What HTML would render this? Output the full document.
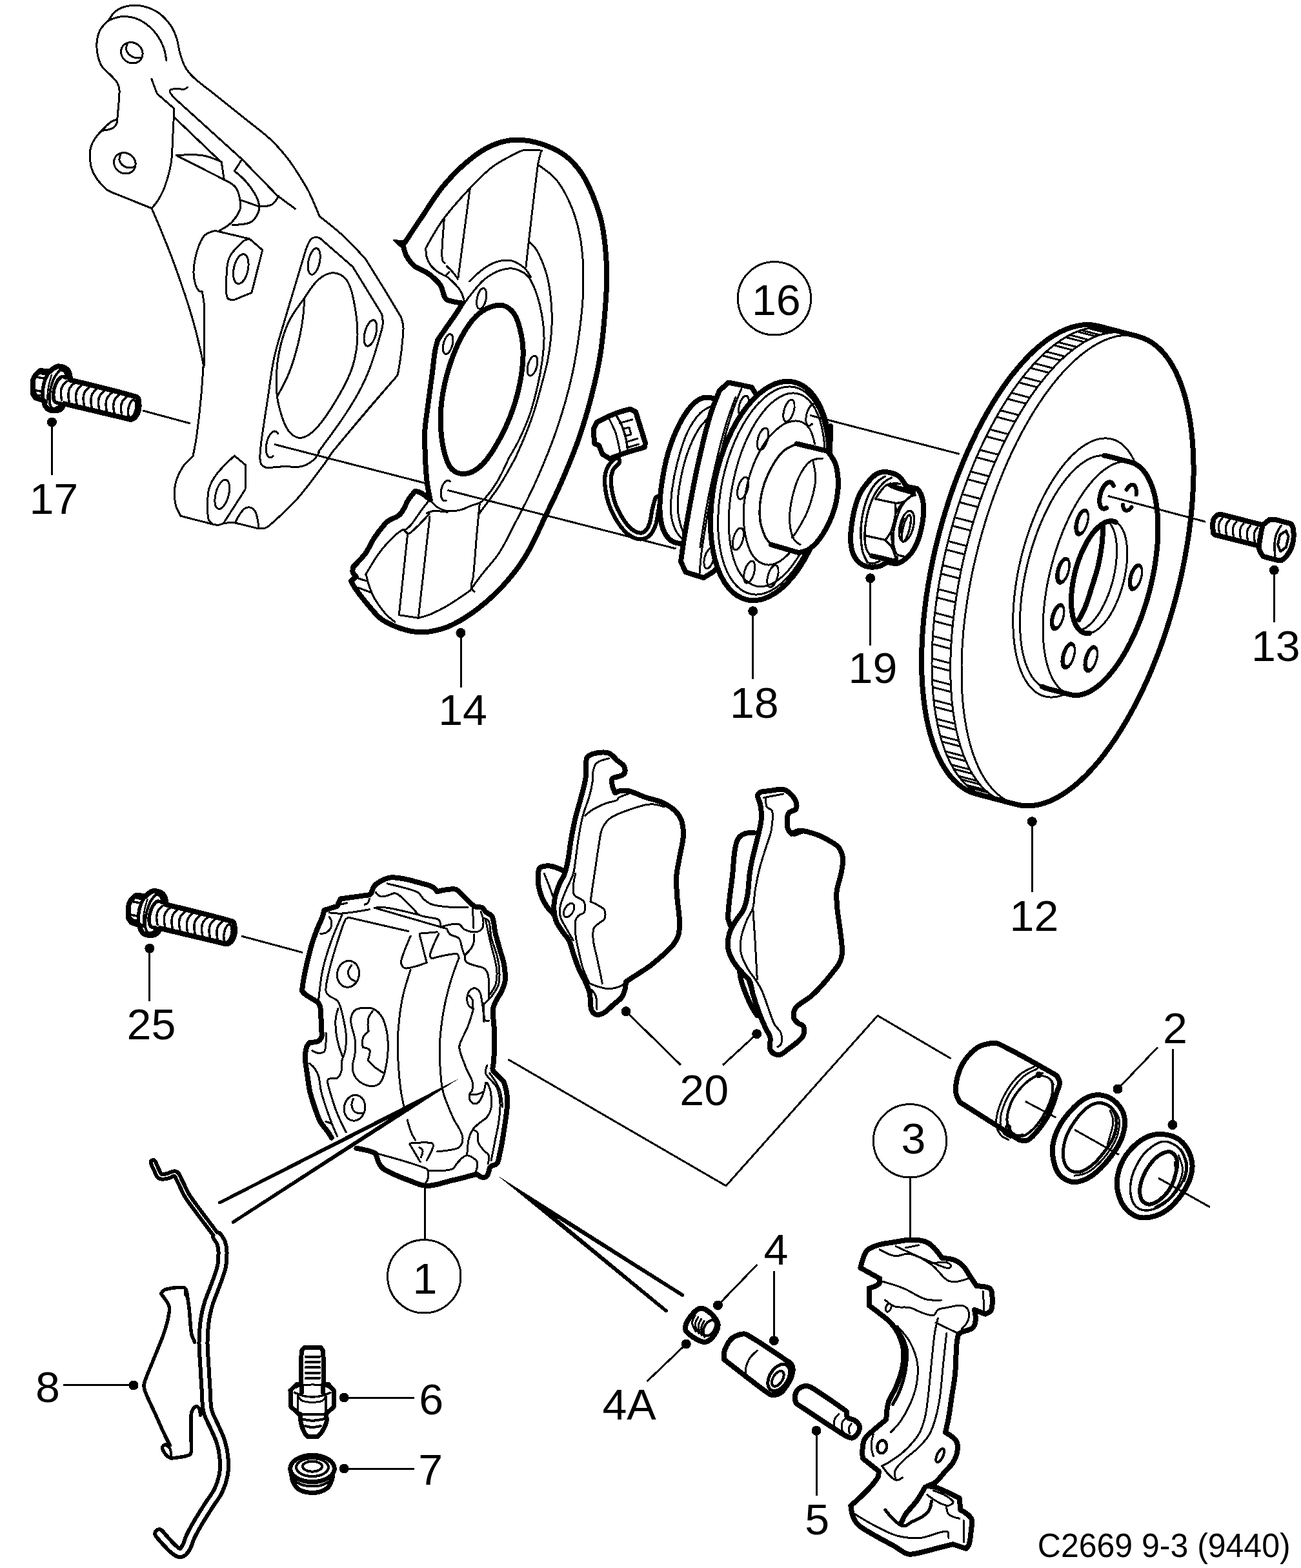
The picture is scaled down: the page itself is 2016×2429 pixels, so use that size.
<!DOCTYPE html>
<html><head><meta charset="utf-8"><title>Brake parts diagram</title>
<style>html,body{margin:0;padding:0;background:#fff}svg{display:block}text{font-family:"Liberation Sans",sans-serif;fill:#000;stroke:none}</style>
</head><body>
<svg xmlns="http://www.w3.org/2000/svg" width="2016" height="2429" viewBox="0 0 2016 2429" shape-rendering="crispEdges">
<rect width="2016" height="2429" fill="#fff"/>
<g fill="none" stroke="#000" stroke-linecap="round" stroke-linejoin="round">
<g id="p00_lines">
<path d="M221.0,636.0L295.0,656.0" stroke-width="3" stroke-linecap="butt" fill="none"/>
<path d="M425.0,688.3L658.3,748.3" stroke-width="3" stroke-linecap="butt" fill="none"/>
<path d="M693.3,759.3L1047.5,850.0" stroke-width="3" stroke-linecap="butt" fill="none"/>
<path d="M373.8,1450.0L468.8,1475.5" stroke-width="3" stroke-linecap="butt" fill="none"/>
<path d="M787.5,1641.2L1125.0,1837.0L1360.0,1573.3L1473.8,1640.0" stroke-width="3" stroke-linecap="butt" fill="none"/>
</g>
<g id="p01_knuckle">
<path d="M168.3,31.7C171.6,26.0 174.8,20.4 180.0,16.7C185.8,12.5 192.9,10.1 200.0,9.0C207.7,7.8 215.8,8.1 223.3,10.0C231.6,12.1 239.7,15.7 246.7,20.7C253.9,25.9 259.9,32.7 265.0,40.0C269.2,46.0 271.7,53.1 274.0,60.0C276.2,66.5 276.4,73.5 278.3,80.0C280.7,87.9 282.7,96.1 286.7,103.3C290.1,109.6 294.8,115.2 300.0,120.0C310.4,129.7 322.2,137.8 333.3,146.7C350.0,160.0 366.7,173.3 383.3,186.7C395.6,196.6 408.5,205.8 420.0,216.7C429.7,225.9 438.5,236.1 446.7,246.7C454.0,256.2 460.3,266.5 466.7,276.7C471.4,284.3 476.1,291.9 480.0,300.0C485.5,311.4 490.3,323.2 495.0,335.0C508.1,345.2 521.2,355.4 533.3,366.7C545.1,377.6 555.9,389.7 566.7,401.7C576.7,417.7 586.8,433.8 596.7,450.0C605.1,463.8 613.4,477.7 621.7,491.7C623.5,497.7 625.4,503.8 625.0,510.0C623.7,532.9 621.0,555.8 616.7,578.3C615.9,582.3 613.0,585.3 610.0,588.3C595.5,604.9 580.9,621.5 566.7,638.3C549.8,658.2 533.2,678.3 516.7,698.3" fill="none" stroke-width="3"/>
<path d="M610.0,588.3C578.6,624.8 547.2,661.2 516.7,698.3C511.1,705.1 507.0,713.0 501.7,720.0C488.1,738.0 475.0,756.5 460.0,773.3C447.2,787.7 432.8,800.5 418.3,813.3C415.7,815.4 413.1,817.5 410.0,818.3C406.2,819.3 402.3,818.8 398.3,818.3L361.7,809.3C356.6,809.6 351.6,809.8 346.7,810.7C343.8,811.2 341.2,813.2 338.3,813.3C335.0,813.5 331.6,812.6 328.3,811.7L280.0,799.3C276.4,793.1 272.8,786.9 271.7,780.0C270.0,770.1 269.7,759.8 271.7,750.0C273.6,740.5 278.2,731.5 283.3,723.3C287.4,716.9 293.2,711.8 299.0,706.7C301.2,695.6 303.5,684.5 305.0,673.3C307.7,653.4 309.8,633.4 311.7,613.3C313.1,598.4 314.0,583.3 315.0,568.3" fill="none" stroke-width="3"/>
<path d="M168.3,31.7C163.2,36.2 158.1,40.7 155.0,46.7C151.8,52.8 150.6,59.8 150.0,66.7C149.4,73.3 150.2,80.1 151.7,86.7C153.0,92.5 155.0,98.4 158.3,103.3C161.8,108.6 167.4,112.1 171.7,116.7C175.2,120.4 179.1,123.9 181.7,128.3C183.7,131.8 184.8,136.0 185.0,140.0C185.4,148.9 184.0,157.8 183.3,166.7C182.9,172.8 182.3,178.9 181.7,185.0C178.1,186.0 174.6,187.0 171.7,189.0C167.3,192.0 163.8,196.2 160.0,200.0C156.6,203.4 152.9,206.7 150.0,210.7C146.7,215.1 143.6,219.8 141.7,225.0C139.9,229.8 139.3,234.9 139.3,240.0C139.3,246.7 139.8,253.6 141.7,260.0C143.4,266.0 146.4,271.6 150.0,276.7C154.3,282.8 159.2,288.6 165.0,293.3C168.8,296.5 173.6,298.2 178.3,300.0L235.0,322.7" fill="none" stroke-width="3"/>
<path d="M181.7,185.0C181.8,187.0 181.9,189.0 181.0,190.7C179.5,193.6 177.9,196.8 175.0,198.3C170.3,200.9 164.8,201.6 159.3,202.3" fill="none" stroke-width="3"/>
<path d="M168.3,31.7C174.9,28.9 181.4,26.2 188.3,25.7C195.6,25.1 203.1,26.0 210.0,28.3C217.3,30.8 224.0,35.1 230.0,40.0C235.8,44.7 240.8,50.5 245.0,56.7C248.8,62.3 251.8,68.6 254.0,75.0C256.0,80.9 256.9,87.1 257.7,93.3" fill="none" stroke-width="3"/>
<ellipse cx="204.3" cy="81.7" rx="17.3" ry="15.7" transform="rotate(35 204.3 81.7)" fill="none" stroke-width="3"/>
<path d="M197.7,66.7C196.1,70.7 194.6,74.7 196.0,78.3C197.7,82.7 201.7,86.3 206.0,88.3C209.9,90.2 214.5,89.8 219.0,89.3" fill="none" stroke-width="3"/>
<ellipse cx="193.3" cy="252.7" rx="17.3" ry="15.7" transform="rotate(35 193.3 252.7)" fill="none" stroke-width="3"/>
<path d="M187.3,237.7C185.6,241.7 183.9,245.7 185.3,249.3C187.1,253.9 191.4,257.6 196.0,259.3C200.2,260.9 204.8,259.6 209.3,258.3" fill="none" stroke-width="3"/>
<path d="M235.0,122.7L243.3,145.0L270.0,168.3C269.3,183.3 268.5,198.3 267.7,213.3C266.9,226.7 267.2,240.1 265.0,253.3C262.9,265.8 259.2,278.1 255.0,290.0C252.5,297.0 248.9,303.6 245.0,310.0C242.2,314.6 238.6,318.6 235.0,322.7" fill="none" stroke-width="3"/>
<path d="M235.0,322.7C239.0,331.7 242.9,340.8 246.7,350.0C253.5,366.6 260.4,383.2 266.7,400.0C273.7,418.8 280.3,437.7 286.7,456.7C291.4,471.0 295.9,485.4 300.0,500.0C303.7,513.2 306.9,526.6 310.0,540.0C312.2,549.4 314.1,558.9 316.0,568.3" fill="none" stroke-width="3"/>
<path d="M333.3,357.3C327.0,358.9 320.7,360.4 316.7,365.0C310.6,371.9 307.7,381.2 305.0,390.0C302.1,399.7 300.5,409.9 300.0,420.0C299.7,426.7 300.9,433.5 302.7,440.0C303.7,443.9 305.6,447.7 308.3,450.7C309.5,451.9 311.4,451.8 313.3,451.7C314.8,460.0 316.3,468.3 316.7,476.7C317.4,495.5 316.8,514.4 316.7,533.3C316.6,545.0 316.3,556.7 316.0,568.3" fill="none" stroke-width="3"/>
<path d="M291.0,135.0C289.1,136.5 287.3,138.0 285.0,138.3C281.1,138.8 277.2,137.1 273.3,137.3C270.2,137.5 266.8,137.8 264.0,139.3C263.0,139.9 262.8,141.6 263.3,142.7C265.0,146.0 267.5,148.8 270.0,151.7L375.0,246.7L363.3,265.0C369.2,269.7 375.1,274.4 380.0,280.0C386.3,287.2 392.1,294.9 396.7,303.3C399.4,308.4 401.3,314.2 401.7,320.0C401.9,324.6 400.7,329.4 398.3,333.3C395.5,338.0 391.8,343.0 386.7,345.0C378.3,348.3 369.2,348.3 360.0,348.3" fill="none" stroke-width="3"/>
<path d="M375.0,246.7L430.0,303.3L457.3,323.3" fill="none" stroke-width="3"/>
<path d="M431.7,303.3C429.1,308.7 426.5,314.0 421.7,316.7C415.8,319.9 408.7,320.0 401.7,320.0L373.3,310.0" fill="none" stroke-width="3"/>
<path d="M270.0,181.7L343.3,251.7L347.3,278.3" fill="none" stroke-width="3"/>
<path d="M273.3,240.7C286.7,239.7 300.1,238.8 313.3,240.7C323.8,242.2 333.6,246.4 343.3,250.7" fill="none" stroke-width="3"/>
<path d="M273.3,240.7L347.3,278.3C353.9,281.4 360.6,284.5 365.0,290.0C369.1,295.1 370.4,301.9 371.7,308.3C372.7,313.8 373.6,319.8 371.7,325.0C368.9,332.5 363.9,339.3 358.3,345.0C353.2,350.3 346.6,353.8 340.0,357.3" fill="none" stroke-width="3"/>
<path d="M333.3,357.3L386.7,370.0L406.7,387.3L390.0,453.3L363.3,464.3C358.8,464.6 354.4,464.9 352.7,461.7C349.3,455.2 350.4,447.2 350.7,440.0C351.2,426.6 350.1,412.5 355.0,400.0C359.1,389.5 368.5,381.8 376.7,374.0C379.3,371.5 383.0,370.8 386.7,370.0" fill="none" stroke-width="3"/>
<ellipse cx="373.3" cy="416.7" rx="11.0" ry="23.3" transform="rotate(12 373.3 416.7)" fill="none" stroke-width="3"/>
<path d="M495.0,368.3C490.6,367.5 486.3,366.8 483.3,369.3C478.4,373.6 476.2,380.2 474.0,386.7C469.3,402.2 464.7,417.8 460.0,433.3C453.3,455.6 446.5,477.7 440.0,500.0C434.8,517.7 428.9,535.3 425.0,553.3C420.5,574.2 418.2,595.5 415.0,616.7C411.6,638.9 408.1,661.1 405.0,683.3C404.2,688.9 403.8,694.4 403.3,700.0" fill="none" stroke-width="3"/>
<path d="M403.3,700.0C402.7,706.3 402.1,712.7 404.3,718.3C405.7,721.8 409.5,723.4 413.3,725.0C422.2,724.0 431.1,723.1 440.0,722.7C448.9,722.3 458.0,724.5 466.7,722.7C473.4,721.3 479.6,717.6 485.0,713.3C489.3,709.9 492.2,704.9 495.0,700.0" fill="none" stroke-width="3"/>
<path d="M495.0,368.3L546.7,413.3L591.7,486.7C592.5,491.1 593.3,495.5 593.3,500.0C593.3,503.4 592.5,506.7 591.7,510.0C583.1,540.9 574.6,571.8 560.0,600.0C541.6,635.6 517.5,667.8 493.3,700.0" fill="none" stroke-width="3"/>
<path d="M516.7,422.7C524.2,422.7 532.3,427.2 536.7,433.3C543.5,442.9 546.0,455.1 548.3,466.7C551.8,484.2 554.3,502.1 554.0,520.0C553.7,535.7 551.2,551.6 546.7,566.7C542.0,581.9 534.6,596.2 526.7,610.0C516.7,627.4 506.5,644.9 493.3,660.0C486.2,668.1 477.3,676.8 466.7,678.3C459.0,679.4 451.3,672.9 446.7,666.7C439.5,657.1 436.5,644.9 433.3,633.3C430.4,622.5 428.6,611.2 428.3,600.0C428.0,583.3 428.7,566.4 431.7,550.0C434.8,532.9 439.5,515.9 446.7,500.0C453.0,486.1 462.9,474.2 471.7,461.7C478.5,451.9 484.3,441.1 493.3,433.3C499.8,427.7 508.1,422.7 516.7,422.7Z" fill="none" stroke-width="3"/>
<path d="M471.7,461.7C471.2,472.3 470.8,482.9 469.3,493.3C467.5,506.8 465.0,520.2 461.7,533.3C458.0,548.0 453.9,562.6 448.3,576.7C443.3,589.4 436.7,601.4 430.0,613.3" fill="none" stroke-width="3"/>
<ellipse cx="486.7" cy="405.0" rx="8.7" ry="20.7" transform="rotate(12 486.7 405.0)" fill="none" stroke-width="3"/>
<ellipse cx="574.0" cy="516.0" rx="8.7" ry="20.7" transform="rotate(15 574.0 516.0)" fill="none" stroke-width="3"/>
<path d="M430.6,671.8L430.0,670.7L429.2,669.7L428.4,669.0L427.6,668.4L426.6,668.1L425.7,668.0L424.6,668.2L423.6,668.5L422.5,669.1L421.5,669.9L420.4,670.8L419.4,672.0L418.4,673.4L417.5,674.9L416.6,676.5L415.7,678.3L415.0,680.2L414.3,682.2L413.7,684.3L413.2,686.4L412.8,688.5L412.5,690.6L412.3,692.7L412.2,694.8L412.3,696.8L412.4,698.6L412.7,700.4L413.0,702.1L413.5,703.5L414.0,704.9L414.7,706.0L415.4,707.0L416.2,707.7L417.1,708.2L418.0,708.5L419.0,708.6L420.0,708.5L421.1,708.2L422.1,707.6L423.2,706.8" fill="none" stroke-width="3"/>
<path d="M346.7,810.0L380.0,758.3L381.0,720.7L363.3,706.0C353.9,714.6 344.5,723.3 336.7,733.3C331.2,740.3 326.5,748.2 324.0,756.7C321.4,765.2 321.8,774.4 321.7,783.3C321.6,790.6 321.3,798.0 323.3,805.0C324.2,808.2 327.1,810.3 330.0,812.3" fill="none" stroke-width="3"/>
<ellipse cx="344.3" cy="765.7" rx="10.0" ry="23.3" transform="rotate(15 344.3 765.7)" fill="none" stroke-width="3"/>
<path d="M365.0,808.3C368.3,801.8 371.6,795.2 376.7,790.0C379.2,787.4 383.1,785.4 386.7,786.0C390.6,786.7 394.4,789.7 396.0,793.3C399.4,801.1 400.2,809.7 401.0,818.3" fill="none" stroke-width="3"/>
</g>
<g id="p02_bolts">
<path d="M108.9,588.6L111.4,589.3C144.7,597.2 177.9,605.0 210.7,614.6C212.7,615.1 214.2,617.3 214.6,619.3C215.6,624.4 216.0,629.9 215.0,635.0C214.2,639.2 211.9,643.1 209.3,646.4C207.9,648.2 205.7,649.2 203.6,649.7C201.9,650.1 200.2,649.5 198.6,648.9L99.3,625.4C98.5,627.6 97.8,629.7 96.4,631.4C95.1,633.1 93.4,634.7 91.4,635.4C88.7,636.4 85.7,636.6 82.9,636.4C80.1,636.2 77.3,635.7 75.0,634.3C72.8,633.0 71.2,630.8 70.0,628.6C68.7,626.2 68.3,623.4 67.9,620.7L55.0,616.4L51.1,610.7C50.6,603.5 50.0,596.3 51.1,589.3C51.8,585.6 54.1,582.3 56.4,579.3C58.1,577.1 60.5,575.5 62.9,574.0L77.1,575.7C78.9,573.9 80.7,572.1 82.9,570.7C85.1,569.3 87.4,567.4 90.0,567.4C94.2,567.4 98.5,568.6 102.1,570.7C104.7,572.2 106.4,575.1 107.4,577.9C108.7,581.2 108.8,584.9 108.9,588.6" fill="#fff" stroke-width="8"/>
<path d="M77.1,575.7C74.5,579.4 71.9,583.0 70.3,587.1C68.3,592.2 67.1,597.5 66.4,602.9C65.7,608.5 65.8,614.3 66.0,620.0" fill="none" stroke-width="5.5"/>
<path d="M62.9,578.6L72.6,580.6" fill="none" stroke-width="3"/>
<path d="M58.3,584.3L70.0,586.6" fill="none" stroke-width="3.5"/>
<path d="M54.7,604.6L65.1,606.6" fill="none" stroke-width="3.5"/>
<path d="M55.0,608.6C55.6,609.8 56.3,611.1 57.4,611.7C59.3,612.7 61.4,612.9 63.6,613.1" fill="none" stroke-width="3"/>
<path d="M80.0,580.7C78.0,587.1 76.0,593.4 75.0,600.0C73.8,607.8 73.4,615.7 73.1,623.6" fill="none" stroke-width="2.5"/>
<path d="M93.1,573.1C89.9,576.6 86.7,580.1 84.6,584.3C81.6,590.1 79.7,596.5 78.3,602.9C77.0,608.9 76.3,615.2 76.6,621.4C76.7,624.7 77.5,628.0 79.3,630.7C80.3,632.2 82.5,633.0 84.3,632.9C86.7,632.6 88.9,631.3 90.7,629.7C92.0,628.5 92.6,626.8 93.1,625.0" fill="none" stroke-width="4"/>
<path d="M102.9,585.7C100.5,584.2 98.1,582.8 95.7,583.6C92.5,584.7 90.3,587.8 88.6,590.7C86.2,594.6 84.6,599.1 83.6,603.6C82.6,607.8 82.4,612.2 82.9,616.4C83.1,618.8 83.9,621.4 85.7,622.9C87.7,624.4 90.4,624.5 93.1,624.6" fill="none" stroke-width="5.5"/>
<path d="M93.1,573.1C95.8,573.5 98.5,573.8 100.0,575.7C102.1,578.2 102.5,581.6 102.9,585.0" fill="none" stroke-width="4"/>
<path d="M103.6,590.7C100.8,593.1 98.1,595.5 96.4,598.6C94.9,601.4 94.4,604.7 94.3,607.9C94.1,611.9 94.9,616.0 95.7,620.0" fill="none" stroke-width="3.5"/>
<path d="M115.1,593.6C112.4,595.9 109.7,598.3 108.0,601.4C106.5,604.2 106.0,607.5 105.9,610.7C105.7,614.8 106.5,618.8 107.3,622.9" fill="none" stroke-width="3.5"/>
<path d="M126.9,596.6C124.1,598.9 121.4,601.3 119.7,604.4C118.2,607.2 117.7,610.5 117.6,613.7C117.4,617.8 118.2,621.8 119.0,625.9" fill="none" stroke-width="3.5"/>
<path d="M138.4,599.4C135.7,601.8 133.0,604.2 131.3,607.3C129.8,610.1 129.2,613.4 129.1,616.6C129.0,620.6 129.8,624.7 130.6,628.7" fill="none" stroke-width="3.5"/>
<path d="M150.1,602.4C147.4,604.8 144.7,607.2 143.0,610.3C141.5,613.1 141.0,616.4 140.9,619.6C140.7,623.6 141.5,627.7 142.3,631.7" fill="none" stroke-width="3.5"/>
<path d="M161.7,605.3C159.0,607.7 156.3,610.0 154.6,613.1C153.1,615.9 152.5,619.3 152.4,622.4C152.3,626.5 153.1,630.5 153.9,634.6" fill="none" stroke-width="3.5"/>
<path d="M173.4,608.3C170.7,610.7 168.0,613.0 166.3,616.1C164.8,618.9 164.2,622.3 164.1,625.4C164.0,629.5 164.8,633.5 165.6,637.6" fill="none" stroke-width="3.5"/>
<path d="M185.0,611.1C182.3,613.5 179.5,615.9 177.9,619.0C176.3,621.8 175.8,625.1 175.7,628.3C175.6,632.4 176.4,636.4 177.1,640.4" fill="none" stroke-width="3.5"/>
<path d="M196.7,614.1C194.0,616.5 191.3,618.9 189.6,622.0C188.1,624.8 187.5,628.1 187.4,631.3C187.3,635.4 188.1,639.4 188.9,643.4" fill="none" stroke-width="3.5"/>
<ellipse cx="204.6" cy="633.1" rx="5.7" ry="13.9" transform="rotate(12 204.6 633.1)" fill="none" stroke-width="3.5"/>
<path d="M257.3,1401.2L259.8,1401.9C293.1,1409.8 326.3,1417.6 359.1,1427.2C361.1,1427.7 362.6,1429.9 363.0,1431.9C364.0,1437.0 364.4,1442.5 363.4,1447.6C362.6,1451.8 360.3,1455.7 357.7,1459.0C356.3,1460.8 354.1,1461.8 352.0,1462.3C350.3,1462.7 348.6,1462.1 347.0,1461.5L247.7,1438.0C246.9,1440.2 246.2,1442.3 244.8,1444.0C243.5,1445.7 241.8,1447.3 239.8,1448.0C237.1,1449.0 234.1,1449.2 231.3,1449.0C228.5,1448.8 225.7,1448.3 223.4,1446.9C221.2,1445.6 219.6,1443.4 218.4,1441.2C217.1,1438.8 216.7,1436.0 216.3,1433.3L203.4,1429.0L199.5,1423.3C199.0,1416.1 198.4,1408.9 199.5,1401.9C200.2,1398.2 202.5,1394.9 204.8,1391.9C206.5,1389.7 208.9,1388.1 211.3,1386.6L225.5,1388.3C227.3,1386.5 229.1,1384.7 231.3,1383.3C233.5,1381.9 235.8,1380.0 238.4,1380.0C242.6,1380.0 246.9,1381.2 250.5,1383.3C253.1,1384.8 254.8,1387.7 255.8,1390.5C257.1,1393.8 257.2,1397.5 257.3,1401.2" fill="#fff" stroke-width="8"/>
<path d="M225.5,1388.3C222.9,1392.0 220.3,1395.6 218.7,1399.7C216.7,1404.8 215.5,1410.1 214.8,1415.5C214.1,1421.1 214.2,1426.9 214.4,1432.6" fill="none" stroke-width="5.5"/>
<path d="M211.3,1391.2L221.0,1393.2" fill="none" stroke-width="3"/>
<path d="M206.7,1396.9L218.4,1399.2" fill="none" stroke-width="3.5"/>
<path d="M203.1,1417.2L213.5,1419.2" fill="none" stroke-width="3.5"/>
<path d="M203.4,1421.2C204.0,1422.4 204.7,1423.7 205.8,1424.3C207.7,1425.3 209.8,1425.5 212.0,1425.7" fill="none" stroke-width="3"/>
<path d="M228.4,1393.3C226.4,1399.7 224.4,1406.0 223.4,1412.6C222.2,1420.4 221.8,1428.3 221.5,1436.2" fill="none" stroke-width="2.5"/>
<path d="M241.5,1385.7C238.3,1389.2 235.1,1392.7 233.0,1396.9C230.0,1402.7 228.1,1409.1 226.7,1415.5C225.4,1421.5 224.7,1427.8 225.0,1434.0C225.1,1437.3 225.9,1440.6 227.7,1443.3C228.7,1444.8 230.9,1445.6 232.7,1445.5C235.1,1445.2 237.3,1443.9 239.1,1442.3C240.4,1441.1 241.0,1439.4 241.5,1437.6" fill="none" stroke-width="4"/>
<path d="M251.3,1398.3C248.9,1396.8 246.5,1395.4 244.1,1396.2C240.9,1397.3 238.7,1400.4 237.0,1403.3C234.6,1407.2 233.0,1411.7 232.0,1416.2C231.0,1420.4 230.8,1424.8 231.3,1429.0C231.5,1431.4 232.3,1434.0 234.1,1435.5C236.1,1437.0 238.8,1437.1 241.5,1437.2" fill="none" stroke-width="5.5"/>
<path d="M241.5,1385.7C244.2,1386.1 246.9,1386.4 248.4,1388.3C250.5,1390.8 250.9,1394.2 251.3,1397.6" fill="none" stroke-width="4"/>
<path d="M252.0,1403.3C249.2,1405.7 246.5,1408.1 244.8,1411.2C243.3,1414.0 242.8,1417.3 242.7,1420.5C242.5,1424.5 243.3,1428.6 244.1,1432.6" fill="none" stroke-width="3.5"/>
<path d="M263.5,1406.2C260.8,1408.5 258.1,1410.9 256.4,1414.0C254.9,1416.8 254.4,1420.1 254.3,1423.3C254.1,1427.4 254.9,1431.4 255.7,1435.5" fill="none" stroke-width="3.5"/>
<path d="M275.3,1409.2C272.5,1411.5 269.8,1413.9 268.1,1417.0C266.6,1419.8 266.1,1423.1 266.0,1426.3C265.8,1430.4 266.6,1434.4 267.4,1438.5" fill="none" stroke-width="3.5"/>
<path d="M286.8,1412.0C284.1,1414.4 281.4,1416.8 279.7,1419.9C278.2,1422.7 277.6,1426.0 277.5,1429.2C277.4,1433.2 278.2,1437.3 279.0,1441.3" fill="none" stroke-width="3.5"/>
<path d="M298.5,1415.0C295.8,1417.4 293.1,1419.8 291.4,1422.9C289.9,1425.7 289.4,1429.0 289.3,1432.2C289.1,1436.2 289.9,1440.3 290.7,1444.3" fill="none" stroke-width="3.5"/>
<path d="M310.1,1417.9C307.4,1420.3 304.7,1422.6 303.0,1425.7C301.5,1428.5 300.9,1431.9 300.8,1435.0C300.7,1439.1 301.5,1443.1 302.3,1447.2" fill="none" stroke-width="3.5"/>
<path d="M321.8,1420.9C319.1,1423.3 316.4,1425.6 314.7,1428.7C313.2,1431.5 312.6,1434.9 312.5,1438.0C312.4,1442.1 313.2,1446.1 314.0,1450.2" fill="none" stroke-width="3.5"/>
<path d="M333.4,1423.7C330.7,1426.1 327.9,1428.5 326.3,1431.6C324.7,1434.4 324.2,1437.7 324.1,1440.9C324.0,1445.0 324.8,1449.0 325.5,1453.0" fill="none" stroke-width="3.5"/>
<path d="M345.1,1426.7C342.4,1429.1 339.7,1431.5 338.0,1434.6C336.5,1437.4 335.9,1440.7 335.8,1443.9C335.7,1448.0 336.5,1452.0 337.3,1456.0" fill="none" stroke-width="3.5"/>
<ellipse cx="353.0" cy="1445.7" rx="5.7" ry="13.9" transform="rotate(12 353.0 1445.7)" fill="none" stroke-width="3.5"/>
</g>
<g id="p03_shield">
<path d="M626.7,376.7C635.5,363.3 644.3,349.9 653.3,336.7C664.3,320.5 674.2,303.4 686.7,288.3C698.7,273.8 712.1,260.3 726.7,248.3C737.8,239.1 750.0,230.7 763.3,225.0C774.8,220.0 787.5,216.9 800.0,216.7C813.5,216.4 827.1,219.1 840.0,223.3C853.0,227.6 865.8,233.4 876.7,241.7C887.3,249.8 896.1,260.4 903.3,271.7C911.6,284.6 917.3,299.0 922.7,313.3C927.5,326.3 931.6,339.7 934.0,353.3C937.4,373.1 939.2,393.3 940.0,413.3C940.7,431.1 939.9,448.9 938.7,466.7C936.8,493.4 934.6,520.2 930.7,546.7C927.3,569.1 922.3,591.3 916.7,613.3C910.9,635.8 904.3,658.1 896.7,680.0C888.8,702.6 879.5,724.7 870.0,746.7C861.7,765.8 852.5,784.6 843.3,803.3" fill="none" stroke-width="8"/>
<path d="M843.3,803.3C834.2,823.8 825.0,844.3 813.3,863.3C803.8,878.9 792.3,893.2 780.0,906.7C767.8,920.0 754.3,932.3 740.0,943.3C727.5,952.9 714.2,961.6 700.0,968.3C689.5,973.3 678.1,976.4 666.7,978.3C657.9,979.8 648.8,979.6 640.0,978.3C630.8,977.0 621.9,974.1 613.3,970.7C605.2,967.4 596.9,963.8 590.0,958.3C582.3,952.3 576.4,944.1 570.0,936.7C563.6,929.1 557.4,921.4 551.7,913.3C548.7,909.2 546.4,904.6 544.0,900.0L551.7,893.3C549.6,891.3 547.4,889.3 546.7,886.7C545.9,884.0 546.6,881.2 547.3,878.3C554.2,871.4 561.0,864.5 566.7,856.7C571.9,849.4 574.9,840.7 580.0,833.3C586.1,824.5 592.1,815.5 600.0,808.3C605.7,803.1 614.7,802.3 620.0,796.7C626.2,790.2 628.5,780.9 633.3,773.3C636.3,768.8 639.8,764.7 643.3,760.7C646.8,761.4 650.3,762.2 653.3,764.0C658.0,766.7 662.0,770.4 666.0,774.0" fill="none" stroke-width="8"/>
<path d="M609.7,372.0L625.0,373.3L627.5,378.0L624.2,382.5L619.2,381.3Z" fill="#000" stroke-width="2"/>
<path d="M625.0,381.7C626.2,386.9 627.4,392.1 630.0,396.7C633.1,402.2 636.8,407.7 641.7,411.7C647.5,416.5 655.3,418.5 661.7,422.5C665.8,425.1 669.8,428.2 673.3,431.7C677.0,435.2 680.8,438.9 683.3,443.3C685.9,447.9 686.1,453.6 688.3,458.3C689.5,460.8 690.8,463.7 693.3,464.7C700.7,467.6 708.7,468.6 716.7,469.7" fill="none" stroke-width="8"/>
<path d="M716.7,469.7C714.0,474.3 711.3,478.9 708.3,483.3C703.5,490.7 698.3,497.8 693.3,505.0C688.3,512.2 683.3,519.4 678.3,526.7C676.7,532.2 675.1,537.7 674.2,543.3C672.3,554.4 671.4,565.6 670.0,576.7C667.8,593.3 665.5,610.0 663.3,626.7C661.6,640.5 659.0,654.4 658.3,668.3C657.6,682.2 658.4,696.1 659.2,710.0" fill="none" stroke-width="8"/>
<path d="M659.0,710.0C659.6,722.2 660.2,734.5 661.7,746.7C662.8,755.9 664.7,764.9 666.7,774.0" fill="none" stroke-width="8"/>
<path d="M773.3,472.7C780.6,472.2 788.4,476.3 793.3,481.7C799.6,488.4 802.6,497.8 805.0,506.7C808.5,519.7 810.7,533.2 810.7,546.7C810.7,563.4 808.4,580.2 805.0,596.7C801.5,613.7 796.4,630.5 790.0,646.7C783.6,662.8 775.7,678.5 766.7,693.3C760.1,704.2 752.9,715.0 743.3,723.3C736.9,729.0 728.5,733.3 720.0,734.0C712.9,734.5 704.8,731.9 700.0,726.7C693.4,719.6 690.6,709.4 688.3,700.0C684.7,684.8 682.9,669.0 682.7,653.3C682.4,637.7 683.9,622.0 686.7,606.7C689.7,589.7 694.2,572.9 700.0,556.7C705.4,541.7 711.8,526.9 720.0,513.3C726.3,502.9 733.6,492.4 743.3,485.0C751.9,478.4 762.5,473.4 773.3,472.7Z" fill="none" stroke-width="8"/>
<path d="M720.0,469.2C724.3,463.2 728.6,457.3 733.3,451.7C738.6,445.3 743.7,438.6 750.0,433.3C756.0,428.3 762.8,424.0 770.0,420.8C776.3,418.1 783.1,416.2 790.0,415.8C795.1,415.6 800.3,417.1 805.0,419.2C809.9,421.3 814.8,424.2 818.3,428.3C822.8,433.6 825.7,440.2 828.3,446.7C831.8,455.3 834.5,464.3 836.7,473.3C838.9,482.7 840.5,492.1 841.7,501.7C842.7,510.0 843.2,518.3 843.0,526.7C842.7,537.8 841.5,548.9 840.0,560.0C838.3,572.3 836.1,584.6 833.3,596.7C830.0,611.2 826.5,625.8 821.7,640.0C817.0,653.7 811.2,667.0 805.0,680.0C800.1,690.3 794.2,700.2 788.3,710.0" fill="none" stroke-width="3"/>
<path d="M788.3,710.0C782.8,722.5 777.2,735.1 770.0,746.7C763.3,757.4 756.0,768.1 746.7,776.7C742.3,780.7 735.6,781.1 730.0,783.3C724.4,785.6 719.2,788.7 713.3,790.0C706.8,791.5 700.0,792.6 693.3,791.7C687.4,790.9 681.7,788.3 676.7,785.0C672.5,782.3 669.6,778.1 666.7,774.0" fill="none" stroke-width="3"/>
<path d="M727.5,435.8C733.6,429.7 739.7,423.5 746.7,418.3C752.9,413.7 759.5,409.4 766.7,406.7C773.0,404.2 779.9,403.0 786.7,403.0C791.3,403.0 795.8,404.7 800.0,406.7C804.9,409.0 809.5,412.0 813.3,415.8C817.1,419.6 819.8,424.4 822.5,429.2" fill="none" stroke-width="3"/>
<path d="M820.8,375.8C824.2,378.6 827.6,381.4 830.0,385.0C834.1,391.2 837.2,398.1 840.0,405.0C843.3,413.1 846.3,421.5 848.3,430.0C850.7,439.9 852.2,449.9 853.3,460.0C854.6,471.1 855.3,482.2 855.3,493.3C855.3,504.5 854.5,515.6 853.3,526.7C852.2,537.8 850.5,549.0 848.3,560.0C846.1,571.2 843.0,582.3 840.0,593.3C836.3,607.3 832.7,621.3 828.3,635.0C824.4,647.4 819.8,659.6 815.0,671.7C809.8,684.6 804.1,697.3 798.3,710.0" fill="none" stroke-width="3"/>
<path d="M798.3,710.0C790.4,724.7 782.4,739.3 773.3,753.3C765.1,766.0 755.5,777.7 746.7,790.0C745.5,791.6 744.4,793.3 743.3,795.0" fill="none" stroke-width="3"/>
<path d="M743.3,780.0C741.6,797.8 739.9,815.5 738.3,833.3C736.6,853.3 735.5,873.4 733.3,893.3C732.7,899.0 729.6,904.3 730.0,910.0C730.2,912.8 732.6,914.7 735.0,916.7" fill="none" stroke-width="3"/>
<path d="M838.3,235.0C836.3,242.2 834.3,249.3 833.3,256.7C826.5,308.8 820.8,361.1 815.0,413.3" fill="none" stroke-width="3"/>
<path d="M728.3,291.7L710.0,430.0" fill="none" stroke-width="3"/>
<path d="M688.3,340.0C687.0,355.5 685.7,371.1 685.0,386.7C684.8,392.2 684.5,397.9 685.7,403.3C686.0,405.1 687.7,406.2 689.3,407.3" fill="none" stroke-width="3"/>
<path d="M692.5,412.5C695.6,415.5 698.8,418.5 701.7,421.7C703.8,424.0 705.7,426.6 707.5,429.2C708.2,430.2 708.7,431.3 709.2,432.5" fill="none" stroke-width="3"/>
<path d="M695.8,421.7L690.0,427.5" fill="none" stroke-width="3"/>
<path d="M660.0,384.2C659.9,388.4 659.8,392.6 660.8,396.7C662.0,401.4 663.9,406.0 666.7,410.0C669.3,413.9 672.9,417.1 676.7,420.0C680.2,422.7 684.4,424.5 688.3,426.7C690.0,427.6 691.9,428.0 693.3,429.2C698.0,433.0 702.6,437.1 706.7,441.7C709.9,445.2 712.9,449.0 715.0,453.3C717.4,458.3 718.7,463.7 720.0,469.2" fill="none" stroke-width="3"/>
<path d="M660.0,384.0C668.3,368.9 676.5,353.8 686.7,340.0C698.8,323.5 712.6,308.3 726.7,293.3C738.2,281.0 749.9,268.6 763.3,258.3C774.5,249.8 787.5,243.8 800.0,237.3C804.2,235.1 808.6,232.8 813.3,232.3C822.2,231.4 831.1,232.4 840.0,233.3" fill="none" stroke-width="3"/>
<path d="M833.3,255.0C844.3,262.4 855.3,269.7 863.3,280.0C873.4,292.9 880.7,308.1 886.7,323.3C893.0,339.4 897.3,356.3 900.0,373.3C903.1,393.1 904.0,413.3 904.0,433.3C904.0,454.5 902.5,475.7 900.0,496.7C896.7,524.6 892.7,552.5 886.7,580.0C880.5,608.2 872.6,636.0 863.3,663.3C853.7,691.7 842.2,719.3 830.0,746.7C819.9,769.4 808.3,791.4 796.7,813.3" fill="none" stroke-width="3"/>
<path d="M796.7,813.3C789.5,828.1 782.3,842.9 773.3,856.7C765.6,868.6 755.4,878.7 746.7,890.0C740.4,898.2 734.3,906.6 728.3,915.0C716.9,923.1 705.4,931.2 693.3,938.3C684.8,943.4 675.8,947.8 666.7,951.7C660.8,954.2 654.6,955.7 648.3,957.3" fill="none" stroke-width="3"/>
<path d="M648.3,957.3L618.3,952.7" fill="none" stroke-width="3"/>
<path d="M618.3,952.7L631.7,826.7" fill="none" stroke-width="3"/>
<path d="M648.3,957.3L666.0,800.0" fill="none" stroke-width="3"/>
<path d="M566.7,890.0C574.0,877.4 581.3,864.9 590.0,853.3C596.9,844.2 605.1,836.2 613.3,828.3C616.8,825.0 620.9,822.5 625.0,820.0L631.7,826.7C633.5,826.4 635.4,826.2 636.7,825.0C646.6,816.1 655.8,806.4 665.0,796.7" fill="none" stroke-width="3"/>
<path d="M666.0,774.0C661.7,779.3 657.4,784.5 653.3,790.0C647.6,797.7 642.8,806.0 636.7,813.3C633.9,816.7 630.3,819.2 626.7,821.7" fill="none" stroke-width="3"/>
<path d="M661.7,795.0C664.9,793.4 668.2,791.9 671.7,791.7C678.9,791.3 686.1,792.3 693.3,793.3" fill="none" stroke-width="3"/>
<path d="M567.3,890.0C568.6,895.6 569.8,901.2 571.7,906.7C574.0,913.5 576.4,920.4 580.0,926.7C584.8,934.9 590.4,942.8 596.7,950.0C601.0,955.1 606.4,959.2 611.7,963.3" fill="none" stroke-width="3"/>
<path d="M551.7,895.0L568.3,900.0" fill="none" stroke-width="3"/>
<path d="M554.0,910.0L576.0,918.3" fill="none" stroke-width="3"/>
<ellipse cx="746.2" cy="462.5" rx="7.0" ry="16.3" transform="rotate(12 746.2 462.5)" fill="none" stroke-width="3"/>
<ellipse cx="694.2" cy="533.0" rx="7.0" ry="15.8" transform="rotate(15 694.2 533.0)" fill="none" stroke-width="3"/>
<ellipse cx="825.0" cy="566.7" rx="7.0" ry="15.8" transform="rotate(15 825.0 566.7)" fill="none" stroke-width="3"/>
<path d="M697.5,745.9L696.8,745.2L696.0,744.7L695.2,744.4L694.4,744.3L693.5,744.3L692.6,744.5L691.7,744.9L690.8,745.5L689.9,746.2L689.0,747.1L688.2,748.2L687.4,749.3L686.6,750.6L685.9,752.0L685.3,753.5L684.7,755.1L684.2,756.7L683.8,758.3L683.5,760.0L683.3,761.7L683.2,763.3L683.2,765.0L683.2,766.5L683.4,768.0L683.7,769.4L684.0,770.7L684.5,771.9L685.0,772.9L685.6,773.8L686.2,774.5L687.0,775.1L687.7,775.5L688.6,775.7L689.4,775.7L690.3,775.6L691.2,775.3" fill="none" stroke-width="3"/>
</g>
<g id="p04_hub">
<path d="M955.5,714.5C951.3,718.4 947.1,722.3 945.0,727.5C942.4,733.7 941.7,740.8 942.0,747.5C942.5,757.7 944.4,767.8 947.5,777.5C950.6,787.2 955.1,796.4 960.5,805.0C964.8,811.9 969.9,818.6 976.2,823.8C980.7,827.3 986.3,830.1 992.0,830.5C996.2,830.8 1000.7,828.5 1003.8,825.5C1007.6,821.7 1009.8,816.4 1011.5,811.2C1013.8,804.4 1013.9,797.0 1015.5,790.0C1016.7,784.5 1018.4,779.1 1020.0,773.8" fill="none" stroke-width="16"/>
<path d="M955.5,714.5C951.3,718.4 947.1,722.3 945.0,727.5C942.4,733.7 941.7,740.8 942.0,747.5C942.5,757.7 944.4,767.8 947.5,777.5C950.6,787.2 955.1,796.4 960.5,805.0C964.8,811.9 969.9,818.6 976.2,823.8C980.7,827.3 986.3,830.1 992.0,830.5C996.2,830.8 1000.7,828.5 1003.8,825.5C1007.6,821.7 1009.8,816.4 1011.5,811.2C1013.8,804.4 1013.9,797.0 1015.5,790.0C1016.7,784.5 1018.4,779.1 1020.0,773.8" fill="none" stroke-width="16"/>
<path stroke="#fff" d="M955.5,714.5C951.3,718.4 947.1,722.3 945.0,727.5C942.4,733.7 941.7,740.8 942.0,747.5C942.5,757.7 944.4,767.8 947.5,777.5C950.6,787.2 955.1,796.4 960.5,805.0C964.8,811.9 969.9,818.6 976.2,823.8C980.7,827.3 986.3,830.1 992.0,830.5C996.2,830.8 1000.7,828.5 1003.8,825.5C1007.6,821.7 1009.8,816.4 1011.5,811.2C1013.8,804.4 1013.9,797.0 1015.5,790.0C1016.7,784.5 1018.4,779.1 1020.0,773.8" fill="none" stroke-width="3.5"/>
<path d="M925.0,653.8C934.5,649.0 943.9,644.3 953.8,640.5C961.0,637.7 968.6,635.7 976.2,633.8L985.0,638.0L1000.0,686.2L998.8,693.0C990.0,695.3 981.2,697.7 972.5,700.5C963.2,703.5 954.1,707.0 945.0,710.5L933.8,703.8L928.0,690.0L921.2,687.0L919.5,665.0L925.0,653.8" fill="#fff" stroke-width="8"/>
<path d="M953.8,641.2C957.4,647.4 961.0,653.5 963.8,660.0C966.5,666.4 968.4,673.2 970.0,680.0C971.5,686.6 972.3,693.3 973.0,700.0" fill="none" stroke-width="3.5"/>
<path d="M943.8,648.8C947.4,655.7 951.1,662.6 953.8,670.0C956.1,676.5 957.3,683.3 958.8,690.0C959.8,694.5 960.5,699.1 961.2,703.8" fill="none" stroke-width="3"/>
<path d="M960.0,655.5L979.5,650.0" fill="none" stroke-width="3"/>
<path d="M965.5,664.5L975.0,662.0L978.0,673.0L968.5,675.5Z" fill="none" stroke-width="3"/>
<path d="M971.2,684.5L987.5,679.5" fill="none" stroke-width="3"/>
<path d="M973.0,693.0L990.0,688.0" fill="none" stroke-width="3"/>
<path d="M1107.5,617.5C1101.6,616.1 1095.6,614.6 1090.0,616.2C1083.3,618.2 1077.2,622.4 1072.5,627.5C1064.4,636.4 1057.9,646.8 1052.5,657.5C1045.3,671.9 1039.5,687.0 1035.0,702.5C1030.3,718.8 1027.4,735.7 1025.0,752.5C1023.2,764.9 1022.0,777.5 1022.5,790.0C1022.9,800.1 1024.0,810.5 1027.5,820.0C1030.0,826.7 1034.3,833.2 1040.0,837.5C1044.9,841.1 1051.2,841.8 1057.5,842.5C1074.7,826.8 1092.0,811.0 1100.0,790.0C1115.1,750.3 1123.2,707.5 1125.0,665.0C1125.7,648.1 1116.6,632.8 1107.5,617.5" fill="#fff" stroke-width="8"/>
<path d="M1105.0,628.0C1097.7,631.2 1090.4,634.4 1085.0,640.0C1076.7,648.7 1070.1,659.1 1065.0,670.0C1058.3,684.3 1054.0,699.7 1050.0,715.0C1046.1,729.8 1043.1,744.8 1041.2,760.0C1039.7,772.4 1038.8,785.1 1040.0,797.5C1040.9,806.2 1043.6,814.7 1047.5,822.5C1050.4,828.3 1055.2,832.9 1060.0,837.5" fill="none" stroke-width="3"/>
<path d="M1100.0,645.0C1093.6,651.2 1087.1,657.4 1082.5,665.0C1075.3,676.8 1069.5,689.5 1065.0,702.5C1059.9,717.1 1056.5,732.3 1053.8,747.5C1051.5,759.9 1050.0,772.4 1050.0,785.0C1050.0,793.4 1051.8,801.8 1053.8,810.0C1055.2,816.0 1057.6,821.8 1060.0,827.5" fill="none" stroke-width="3"/>
<path d="M1115.0,605.0L1128.8,592.5L1165.0,600.0L1173.8,615.0C1165.2,648.2 1156.6,681.4 1150.0,715.0C1140.3,764.8 1132.6,814.9 1125.0,865.0C1119.5,871.6 1114.0,878.2 1107.5,883.8C1102.2,888.3 1096.1,891.6 1090.0,895.0L1062.5,886.2L1055.0,870.0C1056.6,858.3 1058.1,846.6 1060.0,835.0C1063.1,815.8 1066.4,796.6 1070.0,777.5C1073.9,756.6 1077.8,735.7 1082.5,715.0C1087.8,691.5 1093.2,668.1 1100.0,645.0C1104.0,631.3 1109.5,618.2 1115.0,605.0" fill="#fff" stroke-width="8"/>
<path d="M1148.8,602.5C1142.9,616.5 1137.1,630.6 1132.5,645.0C1126.7,663.1 1122.0,681.5 1117.5,700.0C1111.2,725.7 1105.1,751.5 1100.0,777.5C1095.1,802.4 1091.1,827.4 1087.5,852.5C1085.7,865.3 1084.7,878.3 1083.8,891.2" fill="none" stroke-width="3"/>
<path d="M1140.0,615.0C1134.7,629.1 1129.3,643.1 1125.0,657.5C1119.3,676.5 1114.5,695.7 1110.0,715.0C1104.5,738.2 1099.4,761.6 1095.0,785.0C1091.1,805.7 1088.0,826.6 1085.0,847.5" fill="none" stroke-width="3"/>
<ellipse cx="1152.5" cy="628.8" rx="7.0" ry="16.2" transform="rotate(15 1152.5 628.8)" fill="none" stroke-width="3"/>
<ellipse cx="1098.8" cy="865.0" rx="7.0" ry="16.2" transform="rotate(15 1098.8 865.0)" fill="none" stroke-width="3"/>
<ellipse cx="1193.8" cy="760.5" rx="87.5" ry="172.5" transform="rotate(12 1193.8 760.5)" fill="#fff" stroke-width="8"/>
<ellipse cx="1197.5" cy="760.0" rx="79.5" ry="163.8" transform="rotate(12 1197.5 760.0)" fill="none" stroke-width="3"/>
<ellipse cx="1203.8" cy="758.8" rx="68.8" ry="152.5" transform="rotate(12 1203.8 758.8)" fill="none" stroke-width="3"/>
<ellipse cx="1222.5" cy="636.2" rx="7.5" ry="17.5" transform="rotate(16 1222.5 636.2)" fill="none" stroke-width="3"/>
<ellipse cx="1182.0" cy="680.0" rx="7.5" ry="17.5" transform="rotate(16 1182.0 680.0)" fill="none" stroke-width="3"/>
<ellipse cx="1151.2" cy="756.2" rx="7.5" ry="17.5" transform="rotate(16 1151.2 756.2)" fill="none" stroke-width="3"/>
<ellipse cx="1143.8" cy="835.0" rx="7.5" ry="17.5" transform="rotate(16 1143.8 835.0)" fill="none" stroke-width="3"/>
<ellipse cx="1161.2" cy="886.2" rx="7.5" ry="17.5" transform="rotate(16 1161.2 886.2)" fill="none" stroke-width="3"/>
<ellipse cx="1197.5" cy="892.5" rx="7.5" ry="17.5" transform="rotate(16 1197.5 892.5)" fill="none" stroke-width="3"/>
<path d="M1265.8,630.9L1265.5,629.7L1265.1,628.6L1264.7,627.7L1264.1,626.9L1263.5,626.3L1262.8,625.8L1262.0,625.6L1261.2,625.6L1260.4,625.7L1259.5,626.0L1258.6,626.5L1257.7,627.2L1256.8,628.1L1255.9,629.1L1255.0,630.2L1254.1,631.5L1253.3,633.0L1252.5,634.5L1251.8,636.1L1251.1,637.8L1250.6,639.5L1250.0,641.3L1249.6,643.1L1249.3,644.9L1249.0,646.6L1248.9,648.4L1248.8,650.0L1248.9,651.6L1249.0,653.0L1249.2,654.4L1249.6,655.6L1250.0,656.6L1250.5,657.5L1251.0,658.3L1251.7,658.8L1252.4,659.2L1253.2,659.4L1254.0,659.4L1254.8,659.2L1255.7,658.9L1256.6,658.3L1257.5,657.6L1258.4,656.7" fill="none" stroke-width="3"/>
<path d="M1262.5,687.5C1260.8,679.7 1259.0,671.8 1255.0,665.0C1252.1,660.2 1247.6,656.1 1242.5,653.8C1237.9,651.7 1232.4,651.6 1227.5,652.5C1221.3,653.7 1215.1,656.2 1210.0,660.0C1201.5,666.4 1193.6,673.8 1187.5,682.5C1179.3,694.1 1172.7,706.8 1167.5,720.0C1161.8,734.5 1157.6,749.6 1155.0,765.0C1152.5,779.8 1151.6,795.0 1152.5,810.0C1153.3,822.7 1155.8,835.5 1160.0,847.5C1162.6,854.9 1166.7,862.2 1172.5,867.5C1177.2,871.8 1183.7,874.5 1190.0,875.0C1196.1,875.4 1202.2,872.9 1207.5,870.0C1213.2,866.9 1217.9,862.2 1222.5,857.5" fill="none" stroke-width="3"/>
<path d="M1235.0,687.5L1282.5,698.8C1287.6,705.4 1292.6,712.1 1295.0,720.0C1298.2,730.4 1299.1,741.6 1298.8,752.5C1298.3,765.2 1296.3,777.9 1292.5,790.0C1288.3,803.2 1282.3,815.8 1275.0,827.5C1269.7,836.0 1263.0,843.9 1255.0,850.0C1250.1,853.8 1243.8,855.0 1237.5,856.2L1195.0,843.8C1191.1,839.5 1187.2,835.2 1185.0,830.0C1181.3,821.3 1178.2,812.0 1177.5,802.5C1176.5,790.0 1177.5,777.3 1180.0,765.0C1182.5,752.9 1187.0,741.1 1192.5,730.0C1197.9,719.3 1204.0,708.5 1212.5,700.0C1218.6,693.9 1226.8,690.7 1235.0,687.5" fill="#fff" stroke-width="3.5"/>
<path d="M1235.0,687.5L1282.5,698.8C1287.6,705.4 1292.6,712.1 1295.0,720.0C1298.2,730.4 1299.1,741.6 1298.8,752.5C1298.3,765.2 1296.3,777.9 1292.5,790.0C1288.3,803.2 1282.3,815.8 1275.0,827.5C1269.7,836.0 1263.0,843.9 1255.0,850.0C1250.1,853.8 1243.8,855.0 1237.5,856.2L1195.0,843.8" fill="none" stroke-width="8"/>
<path d="M1275.0,710.0C1267.7,710.4 1260.4,710.7 1255.0,715.0C1247.1,721.4 1241.8,730.8 1237.5,740.0C1232.0,751.9 1228.8,764.7 1226.2,777.5C1224.2,788.2 1223.0,799.2 1223.8,810.0C1224.3,818.6 1226.3,827.3 1230.0,835.0C1231.9,839.0 1236.0,841.4 1240.0,843.8" fill="none" stroke-width="3"/>
<path d="M1260.0,715.0C1261.9,723.3 1263.8,731.6 1263.8,740.0C1263.8,748.4 1262.0,756.8 1260.0,765.0C1257.4,775.2 1254.2,785.3 1250.0,795.0C1245.8,804.6 1240.4,813.5 1235.0,822.5C1232.9,826.1 1230.2,829.3 1227.5,832.5" fill="none" stroke-width="3"/>
<path d="M1286.2,700.0L1287.0,660.0" fill="none" stroke-width="8"/>
</g>
<g id="p05_nut">
<path d="M1371.4,730.7C1366.9,731.2 1362.4,731.7 1358.6,734.0C1353.5,737.0 1349.5,741.5 1345.7,746.0C1340.9,751.7 1336.2,757.6 1332.9,764.3C1329.0,772.0 1326.5,780.3 1324.3,788.6C1322.0,797.0 1320.7,805.6 1319.6,814.3C1318.6,821.9 1317.9,829.5 1318.1,837.1C1318.3,842.9 1319.1,848.8 1320.7,854.3C1322.1,858.9 1324.2,863.4 1327.1,867.1C1329.8,870.6 1333.3,873.5 1337.1,875.4C1341.1,877.4 1345.6,878.3 1350.0,878.6C1354.3,878.9 1358.7,878.2 1362.9,877.1C1365.4,876.5 1367.7,875.0 1370.0,873.6L1375.7,870.7C1380.5,872.1 1385.2,873.5 1390.0,872.9C1394.2,872.3 1398.0,869.7 1401.4,867.1C1405.7,863.9 1409.7,860.1 1412.9,855.7C1416.4,850.9 1419.1,845.5 1421.4,840.0C1423.9,834.0 1425.7,827.7 1427.1,821.4C1428.8,814.4 1430.1,807.2 1430.7,800.0C1431.3,793.4 1431.4,786.6 1430.7,780.0C1430.2,775.1 1429.0,770.3 1427.1,765.7C1425.9,762.5 1423.6,759.8 1421.4,757.1L1404.3,753.6C1401.7,749.1 1399.2,744.5 1395.7,740.7C1393.4,738.1 1390.4,735.9 1387.1,734.6C1382.2,732.5 1376.8,731.6 1371.4,730.7" fill="#fff" stroke-width="8"/>
<path d="M1380.0,751.4C1383.3,753.0 1386.5,754.6 1390.0,755.7C1398.2,758.3 1406.6,760.5 1415.0,762.6" fill="none" stroke-width="8"/>
<path d="M1351.4,861.4C1363.4,864.0 1375.4,866.5 1387.1,870.0C1388.4,870.4 1389.2,871.6 1390.0,872.9" fill="none" stroke-width="8"/>
<path d="M1371.4,737.9C1366.8,740.6 1362.1,743.3 1358.6,747.1C1353.9,752.2 1350.1,758.1 1347.1,764.3C1343.4,772.0 1340.7,780.3 1338.6,788.6C1336.4,797.0 1335.0,805.6 1334.3,814.3C1333.6,821.9 1333.8,829.5 1334.3,837.1C1334.7,843.4 1335.4,849.7 1337.1,855.7C1338.8,861.2 1341.5,866.3 1344.3,871.4C1347.1,872.3 1350.0,873.2 1352.9,872.9C1356.4,872.5 1359.6,870.9 1362.9,869.3" fill="none" stroke-width="3.3"/>
<path d="M1381.4,740.0C1377.3,742.0 1373.3,744.1 1370.0,747.1C1365.1,751.8 1360.6,757.0 1357.1,762.9C1352.9,770.0 1349.7,777.8 1347.1,785.7C1344.4,794.1 1342.7,802.7 1341.4,811.4C1340.3,819.0 1339.7,826.7 1340.0,834.3C1340.2,840.1 1340.9,846.0 1342.9,851.4C1344.3,855.3 1347.1,858.4 1350.0,861.4" fill="none" stroke-width="3.3"/>
<path d="M1394.3,749.3C1390.0,748.9 1385.7,748.6 1381.4,749.3C1377.9,749.9 1374.0,750.7 1371.4,753.1C1365.4,758.8 1360.9,765.8 1356.4,772.9" fill="none" stroke-width="3.3"/>
<path d="M1356.4,772.9L1387.1,779.3" fill="none" stroke-width="3.3"/>
<path d="M1387.1,779.3C1391.1,779.2 1395.0,779.2 1398.6,777.9C1402.3,776.5 1405.5,773.9 1408.6,771.4C1411.5,769.1 1413.9,766.3 1416.4,763.6" fill="none" stroke-width="3.3"/>
<path d="M1387.1,779.3C1387.8,784.3 1388.5,789.3 1387.9,794.3C1386.6,803.5 1384.7,812.7 1381.4,821.4C1379.4,826.9 1375.8,831.7 1372.1,836.4" fill="none" stroke-width="3.3"/>
<path d="M1342.1,830.0L1371.4,836.4" fill="none" stroke-width="3.3"/>
<path d="M1371.4,836.4C1375.1,839.7 1378.8,843.0 1381.4,847.1C1384.2,851.5 1385.6,856.5 1387.1,861.4C1387.8,863.5 1387.8,865.7 1387.9,867.9" fill="none" stroke-width="3.3"/>
<path d="M1388.6,794.3L1397.1,780.0" fill="none" stroke-width="3.3"/>
<path d="M1381.4,825.7L1382.9,847.1" fill="none" stroke-width="3.3"/>
<path d="M1418.6,767.1C1414.4,767.9 1410.2,768.7 1407.1,771.4C1402.3,775.7 1398.7,781.4 1395.7,787.1C1392.2,793.9 1389.9,801.3 1387.9,808.6C1386.0,815.1 1384.5,821.8 1384.0,828.6C1383.6,834.3 1383.9,840.1 1385.0,845.7C1385.9,850.2 1386.8,855.2 1390.0,858.6C1392.4,861.1 1396.2,861.3 1400.0,861.4" fill="none" stroke-width="3.3"/>
<path d="M1390.0,862.1L1390.0,867.4" fill="none" stroke-width="3.3"/>
<ellipse cx="1405.0" cy="815.0" rx="10.3" ry="24.3" transform="rotate(14 1405.0 815.0)" fill="none" stroke-width="3.3"/>
<ellipse cx="1404.3" cy="818.6" rx="5.1" ry="21.4" transform="rotate(14 1404.3 818.6)" fill="none" stroke-width="3.3"/>
<path d="M1400.7,802.9C1399.0,806.6 1397.4,810.3 1396.4,814.3C1395.7,817.5 1395.7,820.9 1395.7,824.3" fill="none" stroke-width="3.3"/>
</g>
<g id="p06_disc">
<path d="M1764.1,521.3L1772.0,523.9L1779.6,527.5L1786.9,532.0L1793.9,537.6L1800.5,544.0L1806.8,551.4L1812.7,559.7L1818.2,568.9L1823.3,578.9L1828.0,589.8L1832.3,601.5L1836.1,614.0L1839.4,627.2L1842.3,641.1L1844.7,655.7L1846.6,670.9L1848.1,686.7L1849.0,703.0L1849.5,719.8L1849.5,737.1L1848.9,754.8L1847.9,772.8L1846.4,791.1L1844.4,809.7L1842.0,828.5L1839.0,847.4L1835.6,866.5L1831.8,885.6L1827.5,904.6L1822.8,923.7L1817.6,942.6L1812.0,961.3L1806.1,979.9L1799.8,998.1L1793.1,1016.1L1786.1,1033.7L1778.8,1050.9L1771.1,1067.6L1763.2,1083.9L1755.0,1099.5L1746.6,1114.6L1738.0,1129.1L1729.2,1142.9L1720.3,1156.0L1711.2,1168.3L1702.0,1179.8L1692.7,1190.6L1683.3,1200.5L1673.9,1209.5L1664.5,1217.6L1655.1,1224.8L1645.7,1231.1L1636.4,1236.5L1627.2,1240.8L1618.1,1244.2L1609.2,1246.6L1600.4,1248.0L1591.8,1248.4L1583.5,1247.8L1575.3,1246.3L1513.5,1230.1L1505.6,1227.6L1498.0,1224.0L1490.7,1219.5L1483.7,1213.9L1477.1,1207.5L1470.8,1200.1L1464.9,1191.8L1459.4,1182.6L1454.3,1172.5L1449.6,1161.7L1445.4,1150.0L1441.6,1137.5L1438.2,1124.3L1435.3,1110.4L1432.9,1095.8L1431.0,1080.6L1429.6,1064.8L1428.6,1048.5L1428.1,1031.7L1428.2,1014.4L1428.7,996.7L1429.7,978.7L1431.2,960.4L1433.2,941.8L1435.6,923.0L1438.6,904.1L1442.0,885.0L1445.8,865.9L1450.1,846.9L1454.9,827.8L1460.0,808.9L1465.6,790.2L1471.5,771.6L1477.8,753.3L1484.5,735.4L1491.5,717.8L1498.9,700.6L1506.5,683.9L1514.4,667.6L1522.6,651.9L1531.0,636.9L1539.6,622.4L1548.4,608.6L1557.3,595.5L1566.4,583.2L1575.7,571.7L1585.0,560.9L1594.3,551.0L1603.7,542.0L1613.1,533.9L1622.5,526.6L1631.9,520.4L1641.2,515.0L1650.4,510.7L1659.5,507.3L1668.4,504.9L1677.2,503.5L1685.8,503.1L1694.2,503.6L1702.3,505.2Z" fill="#fff" stroke-width="8" />
<path d="M1575.3,1246.3L1567.4,1243.7L1559.8,1240.1L1552.5,1235.6L1545.6,1230.0L1538.9,1223.6L1532.7,1216.2L1526.7,1207.9L1521.2,1198.7L1516.1,1188.7L1511.5,1177.8L1507.2,1166.1L1503.4,1153.6L1500.1,1140.4L1497.2,1126.5L1494.8,1111.9L1492.8,1096.7L1491.4,1080.9L1490.4,1064.6L1490.0,1047.8L1490.0,1030.5L1490.5,1012.8L1491.5,994.8L1493.0,976.5L1495.0,957.9L1497.5,939.1L1500.4,920.2L1503.8,901.1L1507.7,882.0L1512.0,863.0L1516.7,843.9L1521.9,825.0L1527.4,806.3L1533.4,787.7L1539.7,769.5L1546.4,751.5L1553.4,733.9L1560.7,716.7L1568.3,700.0L1576.2,683.7L1584.4,668.1L1592.8,653.0L1601.4,638.5L1610.2,624.7L1619.2,611.6L1628.3,599.3L1637.5,587.8L1646.8,577.0L1656.2,567.1L1665.6,558.1L1675.0,550.0L1684.4,542.8L1693.7,536.5L1703.0,531.1L1712.2,526.8L1721.3,523.4L1730.3,521.0L1739.0,519.6L1747.6,519.2L1756.0,519.8L1764.1,521.3" fill="none" stroke-width="3" />
<path d="M1555.5,1241.0L1547.7,1238.1L1540.2,1234.2L1532.9,1229.3L1526.0,1223.4L1519.5,1216.6L1513.3,1208.8L1507.5,1200.1L1502.1,1190.5L1497.2,1180.1L1492.6,1168.8L1488.5,1156.8L1484.9,1143.9L1481.7,1130.4L1479.0,1116.1L1476.8,1101.2L1475.0,1085.6L1473.8,1069.5L1473.0,1052.9L1472.8,1035.8L1473.0,1018.2L1473.8,1000.3L1475.0,982.0L1476.8,963.4L1479.0,944.6L1481.7,925.7L1484.9,906.6L1488.5,887.4L1492.6,868.2L1497.1,849.0L1502.1,830.0L1507.5,811.0L1513.3,792.2L1519.5,773.7L1526.0,755.5L1532.9,737.6L1540.1,720.1L1547.7,703.1L1555.5,686.5L1563.6,670.5L1572.0,655.1L1580.5,640.3L1589.3,626.1L1598.2,612.6L1607.3,599.9L1616.6,588.0L1625.9,576.8L1635.3,566.5L1644.7,557.1L1654.2,548.6L1663.6,541.0L1673.1,534.3L1682.4,528.5L1691.7,523.8L1700.9,520.0L1710.0,517.3L1718.9,515.5L1727.6,514.7L1736.1,515.0L1744.3,516.2" fill="none" stroke-width="3" />
<path d="M1526.7,1233.5L1518.9,1230.6L1511.3,1226.7L1504.1,1221.8L1497.2,1215.9L1490.7,1209.0L1484.5,1201.3L1478.7,1192.6L1473.3,1183.0L1468.3,1172.6L1463.8,1161.3L1459.7,1149.3L1456.0,1136.4L1452.9,1122.8L1450.2,1108.6L1447.9,1093.7L1446.2,1078.1L1445.0,1062.0L1444.2,1045.4L1444.0,1028.2L1444.2,1010.7L1445.0,992.8L1446.2,974.5L1447.9,955.9L1450.2,937.1L1452.9,918.2L1456.0,899.1L1459.7,879.9L1463.8,860.7L1468.3,841.5L1473.3,822.4L1478.7,803.5L1484.5,784.7L1490.6,766.2L1497.2,748.0L1504.1,730.1L1511.3,712.6L1518.8,695.6L1526.7,679.0L1534.8,663.0L1543.1,647.6L1551.7,632.7L1560.5,618.6L1569.4,605.1L1578.5,592.4L1587.7,580.5L1597.0,569.3L1606.4,559.0L1615.9,549.6L1625.3,541.1L1634.8,533.4L1644.2,526.8L1653.6,521.0L1662.9,516.3L1672.1,512.5L1681.1,509.7L1690.0,508.0L1698.7,507.2L1707.2,507.5L1715.5,508.7" fill="none" stroke-width="3" />
<path d="M1511.2,1226.6L1540.0,1234.1" fill="none" stroke-width="3" />
<path d="M1497.5,1216.1L1526.3,1223.6" fill="none" stroke-width="3" />
<path d="M1502.1,1220.2L1531.0,1227.7" fill="none" stroke-width="3" />
<path d="M1485.1,1202.1L1513.9,1209.6" fill="none" stroke-width="3" />
<path d="M1489.3,1207.4L1518.1,1215.0" fill="none" stroke-width="3" />
<path d="M1474.1,1184.6L1503.0,1192.1" fill="none" stroke-width="3" />
<path d="M1477.8,1191.2L1506.7,1198.7" fill="none" stroke-width="3" />
<path d="M1464.7,1163.9L1493.6,1171.4" fill="none" stroke-width="3" />
<path d="M1467.9,1171.6L1496.7,1179.1" fill="none" stroke-width="3" />
<path d="M1457.0,1140.1L1485.9,1147.6" fill="none" stroke-width="3" />
<path d="M1459.5,1148.8L1488.4,1156.3" fill="none" stroke-width="3" />
<path d="M1451.0,1113.6L1479.9,1121.1" fill="none" stroke-width="3" />
<path d="M1452.9,1123.2L1481.8,1130.7" fill="none" stroke-width="3" />
<path d="M1446.8,1084.5L1475.7,1092.0" fill="none" stroke-width="3" />
<path d="M1448.1,1095.0L1476.9,1102.5" fill="none" stroke-width="3" />
<path d="M1444.5,1053.2L1473.3,1060.7" fill="none" stroke-width="3" />
<path d="M1445.1,1064.4L1473.9,1071.9" fill="none" stroke-width="3" />
<path d="M1444.0,1020.0L1472.9,1027.5" fill="none" stroke-width="3" />
<path d="M1444.0,1031.9L1472.8,1039.4" fill="none" stroke-width="3" />
<path d="M1445.4,985.3L1474.2,992.8" fill="none" stroke-width="3" />
<path d="M1444.7,997.6L1473.5,1005.2" fill="none" stroke-width="3" />
<path d="M1448.7,949.3L1477.5,956.9" fill="none" stroke-width="3" />
<path d="M1447.3,962.1L1476.1,969.6" fill="none" stroke-width="3" />
<path d="M1453.7,912.6L1482.6,920.1" fill="none" stroke-width="3" />
<path d="M1451.7,925.6L1480.6,933.1" fill="none" stroke-width="3" />
<path d="M1460.6,875.5L1489.4,883.0" fill="none" stroke-width="3" />
<path d="M1458.0,888.6L1486.8,896.1" fill="none" stroke-width="3" />
<path d="M1469.1,838.3L1498.0,845.8" fill="none" stroke-width="3" />
<path d="M1465.9,851.4L1494.8,858.9" fill="none" stroke-width="3" />
<path d="M1479.3,801.5L1508.1,809.0" fill="none" stroke-width="3" />
<path d="M1475.5,814.4L1504.4,821.9" fill="none" stroke-width="3" />
<path d="M1490.9,765.4L1519.8,772.9" fill="none" stroke-width="3" />
<path d="M1486.7,778.0L1515.5,785.5" fill="none" stroke-width="3" />
<path d="M1504.0,730.4L1532.8,737.9" fill="none" stroke-width="3" />
<path d="M1499.2,742.5L1528.1,750.1" fill="none" stroke-width="3" />
<path d="M1518.3,696.9L1547.1,704.4" fill="none" stroke-width="3" />
<path d="M1513.1,708.5L1541.9,716.0" fill="none" stroke-width="3" />
<path d="M1533.7,665.2L1562.5,672.7" fill="none" stroke-width="3" />
<path d="M1528.1,676.1L1557.0,683.6" fill="none" stroke-width="3" />
<path d="M1550.0,635.6L1578.8,643.1" fill="none" stroke-width="3" />
<path d="M1544.1,645.8L1573.0,653.3" fill="none" stroke-width="3" />
<path d="M1567.1,608.5L1595.9,616.0" fill="none" stroke-width="3" />
<path d="M1561.0,617.8L1589.8,625.3" fill="none" stroke-width="3" />
<path d="M1584.8,584.2L1613.6,591.7" fill="none" stroke-width="3" />
<path d="M1578.5,592.4L1607.3,599.9" fill="none" stroke-width="3" />
<path d="M1602.9,562.8L1631.7,570.4" fill="none" stroke-width="3" />
<path d="M1596.5,570.0L1625.3,577.5" fill="none" stroke-width="3" />
<path d="M1621.2,544.7L1650.0,552.2" fill="none" stroke-width="3" />
<path d="M1614.7,550.7L1643.5,558.2" fill="none" stroke-width="3" />
<path d="M1639.5,530.0L1668.3,537.5" fill="none" stroke-width="3" />
<path d="M1633.1,534.8L1661.9,542.3" fill="none" stroke-width="3" />
<path d="M1657.7,518.8L1686.5,526.4" fill="none" stroke-width="3" />
<path d="M1651.3,522.4L1680.2,529.9" fill="none" stroke-width="3" />
<path d="M1675.5,511.4L1704.3,518.9" fill="none" stroke-width="3" />
<path d="M1669.3,513.6L1698.1,521.1" fill="none" stroke-width="3" />
<path d="M1692.8,507.6L1721.6,515.1" fill="none" stroke-width="3" />
<path d="M1686.8,508.5L1715.6,516.0" fill="none" stroke-width="3" />
<path d="M1722.9,680.2L1727.4,681.6L1731.7,683.6L1735.9,686.1L1739.9,689.2L1743.6,692.8L1747.2,696.9L1750.6,701.5L1753.8,706.6L1756.7,712.2L1759.4,718.2L1761.9,724.6L1764.1,731.5L1766.0,738.8L1767.7,746.5L1769.2,754.5L1770.3,762.9L1771.2,771.6L1771.8,780.6L1772.2,789.9L1772.2,799.4L1772.0,809.2L1771.5,819.1L1770.7,829.2L1769.7,839.4L1768.4,849.8L1766.8,860.2L1765.0,870.7L1762.9,881.2L1760.5,891.7L1757.9,902.1L1755.1,912.5L1752.0,922.8L1748.7,933.0L1745.2,943.1L1741.5,953.0L1737.6,962.6L1733.5,972.1L1729.3,981.3L1724.9,990.2L1720.3,998.8L1715.6,1007.1L1710.8,1015.0L1705.9,1022.5L1700.8,1029.7L1695.7,1036.5L1690.6,1042.8L1685.3,1048.7L1680.1,1054.1L1674.8,1059.0L1669.5,1063.5L1664.2,1067.4L1658.9,1070.8L1653.7,1073.7L1648.5,1076.1L1643.3,1077.9L1638.3,1079.2L1633.3,1079.9L1628.4,1080.1L1623.7,1079.8L1619.1,1078.8L1614.6,1077.4L1610.3,1075.4L1606.1,1072.9L1602.1,1069.8L1598.4,1066.2L1594.8,1062.1L1591.4,1057.5L1588.2,1052.4L1585.3,1046.8L1582.6,1040.8L1580.1,1034.4L1577.9,1027.5L1576.0,1020.2L1574.3,1012.5L1572.8,1004.5L1571.7,996.1L1570.8,987.4L1570.2,978.4L1569.8,969.1L1569.8,959.6L1570.0,949.8L1570.5,939.9L1571.3,929.8L1572.3,919.6L1573.6,909.2L1575.2,898.8L1577.0,888.3L1579.1,877.8L1581.5,867.3L1584.1,856.9L1586.9,846.5L1590.0,836.2L1593.3,826.0L1596.8,815.9L1600.5,806.0L1604.4,796.4L1608.5,786.9L1612.7,777.7L1617.1,768.8L1621.7,760.2L1626.4,751.9L1631.2,744.0L1636.1,736.5L1641.2,729.3L1646.3,722.5L1651.4,716.2L1656.7,710.3L1661.9,704.9L1667.2,700.0L1672.5,695.5L1677.8,691.6L1683.1,688.2L1688.3,685.3L1693.5,682.9L1698.7,681.1L1703.7,679.8L1708.7,679.1L1713.6,678.9L1718.3,679.2L1722.9,680.2Z" fill="none" stroke-width="3" />
<path d="M1752.2,716.0L1756.1,717.3L1759.9,719.1L1763.5,721.3L1766.9,724.0L1770.2,727.3L1773.3,730.9L1776.3,735.0L1779.0,739.6L1781.5,744.6L1783.8,750.0L1785.9,755.8L1787.8,762.0L1789.5,768.6L1790.9,775.5L1792.1,782.7L1793.1,790.2L1793.8,798.1L1794.2,806.2L1794.5,814.5L1794.4,823.1L1794.2,831.9L1793.7,840.8L1792.9,849.9L1791.9,859.2L1790.7,868.5L1789.3,877.9L1787.6,887.4L1785.7,896.8L1783.5,906.3L1781.2,915.8L1778.6,925.2L1775.9,934.5L1772.9,943.7L1769.8,952.8L1766.4,961.7L1763.0,970.4L1759.3,979.0L1755.5,987.3L1751.6,995.3L1747.6,1003.1L1743.4,1010.6L1739.1,1017.8L1734.8,1024.6L1730.3,1031.1L1725.8,1037.2L1721.2,1043.0L1716.6,1048.3L1712.0,1053.2L1707.3,1057.7L1702.6,1061.8L1698.0,1065.3L1693.3,1068.5L1688.7,1071.1L1684.2,1073.3L1679.6,1075.0L1675.2,1076.2L1670.9,1076.9L1666.6,1077.1L1662.4,1076.8L1658.4,1076.0L1622.8,1066.7L1618.9,1065.4L1615.1,1063.7L1611.5,1061.4L1608.1,1058.7L1604.8,1055.5L1601.7,1051.8L1598.7,1047.7L1596.0,1043.1L1593.5,1038.1L1591.2,1032.7L1589.0,1026.9L1587.2,1020.7L1585.5,1014.2L1584.1,1007.3L1582.9,1000.0L1581.9,992.5L1581.2,984.6L1580.8,976.5L1580.5,968.2L1580.5,959.6L1580.8,950.8L1581.3,941.9L1582.1,932.8L1583.0,923.6L1584.3,914.2L1585.7,904.8L1587.4,895.4L1589.3,885.9L1591.5,876.4L1593.8,867.0L1596.4,857.6L1599.1,848.3L1602.1,839.0L1605.2,830.0L1608.5,821.0L1612.0,812.3L1615.7,803.8L1619.4,795.5L1623.4,787.4L1627.4,779.6L1631.6,772.1L1635.9,764.9L1640.2,758.1L1644.7,751.6L1649.2,745.5L1653.8,739.7L1658.4,734.4L1663.0,729.5L1667.7,725.0L1672.4,721.0L1677.0,717.4L1681.7,714.3L1686.3,711.6L1690.8,709.4L1695.3,707.7L1699.8,706.6L1704.1,705.9L1708.4,705.7L1712.5,705.9L1716.6,706.7Z" fill="#fff" stroke-width="3" />
<path d="M1711.2,705.8L1711.9,705.9L1712.5,705.9L1713.2,706.0L1713.9,706.1L1714.6,706.3L1715.2,706.4L1715.9,706.6L1716.6,706.7L1752.2,716.0L1756.1,717.3L1759.9,719.1L1763.5,721.3L1766.9,724.0L1770.2,727.3L1773.3,730.9L1776.3,735.0L1779.0,739.6L1781.5,744.6L1783.8,750.0L1785.9,755.8L1787.8,762.0L1789.5,768.6L1790.9,775.5L1792.1,782.7L1793.1,790.2L1793.8,798.1L1794.2,806.2L1794.5,814.5L1794.4,823.1L1794.2,831.9L1793.7,840.8L1792.9,849.9L1791.9,859.2L1790.7,868.5L1789.3,877.9L1787.6,887.4L1785.7,896.8L1783.5,906.3L1781.2,915.8L1778.6,925.2L1775.9,934.5L1772.9,943.7L1769.8,952.8L1766.4,961.7L1763.0,970.4L1759.3,979.0L1755.5,987.3L1751.6,995.3L1747.6,1003.1L1743.4,1010.6L1739.1,1017.8L1734.8,1024.6L1730.3,1031.1L1725.8,1037.2L1721.2,1043.0L1716.6,1048.3L1712.0,1053.2L1707.3,1057.7L1702.6,1061.8L1698.0,1065.3L1693.3,1068.5L1688.7,1071.1L1684.2,1073.3L1679.6,1075.0L1675.2,1076.2L1670.9,1076.9L1666.6,1077.1L1662.4,1076.8L1658.4,1076.0L1622.8,1066.7L1621.8,1066.4L1620.8,1066.1L1619.9,1065.8L1618.9,1065.4L1617.9,1065.0L1617.0,1064.6L1616.1,1064.2L1615.1,1063.7" fill="none" stroke-width="8" />
<path d="M1658.4,1076.0L1654.5,1074.7L1650.7,1072.9L1647.1,1070.7L1643.7,1068.0L1640.4,1064.7L1637.3,1061.1L1634.3,1057.0L1631.6,1052.4L1629.1,1047.4L1626.8,1042.0L1624.7,1036.2L1622.8,1030.0L1621.1,1023.4L1619.7,1016.5L1618.5,1009.3L1617.5,1001.8L1616.8,993.9L1616.4,985.8L1616.1,977.5L1616.2,968.9L1616.4,960.1L1616.9,951.2L1617.7,942.1L1618.7,932.8L1619.9,923.5L1621.3,914.1L1623.0,904.6L1624.9,895.2L1627.1,885.7L1629.4,876.2L1632.0,866.8L1634.7,857.5L1637.7,848.3L1640.8,839.2L1644.2,830.3L1647.6,821.6L1651.3,813.0L1655.1,804.7L1659.0,796.7L1663.0,788.9L1667.2,781.4L1671.5,774.2L1675.8,767.4L1680.3,760.9L1684.8,754.8L1689.4,749.0L1694.0,743.7L1698.6,738.8L1703.3,734.3L1708.0,730.2L1712.6,726.7L1717.3,723.5L1721.9,720.9L1726.4,718.7L1731.0,717.0L1735.4,715.8L1739.7,715.1L1744.0,714.9L1748.2,715.2L1752.2,716.0" fill="none" stroke-width="3" />
<path d="M1725.9,807.8L1727.8,808.4L1729.7,809.3L1731.4,810.4L1733.1,811.7L1734.7,813.2L1736.3,815.0L1737.7,817.0L1739.0,819.2L1740.3,821.6L1741.4,824.2L1742.5,827.0L1743.4,830.0L1744.2,833.1L1744.9,836.4L1745.5,839.9L1746.0,843.6L1746.4,847.3L1746.6,851.2L1746.7,855.2L1746.8,859.4L1746.6,863.6L1746.4,867.9L1746.1,872.2L1745.6,876.7L1745.0,881.2L1744.3,885.7L1743.5,890.2L1742.6,894.8L1741.6,899.3L1740.5,903.9L1739.2,908.4L1737.9,912.8L1736.5,917.3L1735.0,921.6L1733.4,925.9L1731.7,930.1L1729.9,934.2L1728.1,938.2L1726.2,942.0L1724.2,945.8L1722.2,949.4L1720.2,952.8L1718.0,956.1L1715.9,959.2L1713.7,962.1L1711.5,964.9L1709.2,967.4L1707.0,969.8L1704.7,971.9L1702.4,973.9L1700.2,975.6L1697.9,977.1L1695.7,978.3L1693.4,979.4L1691.2,980.2L1689.1,980.7L1687.0,981.1L1684.9,981.2L1682.9,981.0L1680.9,980.6L1679.0,980.0L1677.1,979.1L1675.4,978.0L1673.7,976.7L1672.1,975.2L1670.5,973.4L1669.1,971.4L1667.8,969.2L1666.5,966.8L1665.4,964.2L1664.3,961.4L1663.4,958.4L1662.6,955.3L1661.9,952.0L1661.3,948.5L1660.8,944.8L1660.4,941.1L1660.2,937.2L1660.1,933.2L1660.0,929.0L1660.2,924.8L1660.4,920.5L1660.7,916.2L1661.2,911.7L1661.8,907.2L1662.5,902.7L1663.3,898.2L1664.2,893.6L1665.2,889.1L1666.3,884.5L1667.6,880.0L1668.9,875.6L1670.3,871.1L1671.8,866.8L1673.4,862.5L1675.1,858.3L1676.9,854.2L1678.7,850.2L1680.6,846.4L1682.6,842.6L1684.6,839.0L1686.6,835.6L1688.8,832.3L1690.9,829.2L1693.1,826.3L1695.3,823.5L1697.6,821.0L1699.8,818.6L1702.1,816.5L1704.4,814.5L1706.6,812.8L1708.9,811.3L1711.1,810.1L1713.4,809.0L1715.6,808.2L1717.7,807.7L1719.8,807.3L1721.9,807.2L1723.9,807.4L1725.9,807.8Z" fill="none" stroke-width="3" />
<path d="M1687.7,981.0L1685.6,981.1L1683.5,981.1L1681.5,980.8L1679.6,980.2L1677.7,979.4L1676.0,978.4L1674.2,977.2L1672.6,975.7L1671.0,974.0L1669.6,972.1L1668.2,970.0L1666.9,967.6L1665.7,965.1L1664.7,962.4L1663.7,959.5L1662.8,956.4L1662.1,953.1L1661.5,949.7L1660.9,946.1L1660.5,942.4L1660.3,938.5L1660.1,934.5L1660.0,930.4L1660.1,926.2L1660.3,922.0L1660.6,917.6L1661.0,913.2L1661.6,908.7L1662.2,904.2L1663.0,899.7L1663.9,895.1L1664.9,890.6L1665.9,886.1L1667.1,881.5L1668.4,877.1L1669.8,872.6L1671.3,868.2L1672.9,863.9L1674.5,859.7L1676.3,855.6L1678.1,851.5L1680.0,847.6L1681.9,843.9L1683.9,840.2L1686.0,836.7L1688.1,833.4L1690.2,830.2L1692.4,827.2L1694.6,824.4L1696.8,821.8L1699.1,819.4L1701.3,817.2L1703.6,815.2L1705.9,813.4L1708.1,811.8L1710.4,810.5L1712.6,809.3L1714.8,808.5L1717.0,807.8L1719.1,807.4L1721.2,807.3L1723.3,807.3L1725.3,807.6L1727.2,808.2L1729.1,809.0" fill="none" stroke-width="8" />
<path d="M1714.7,805.8L1716.4,807.0L1718.0,808.5L1719.6,810.2L1721.1,812.1L1722.4,814.2L1723.7,816.6L1724.9,819.1L1726.0,821.8L1726.9,824.7L1727.8,827.8L1728.5,831.1L1729.2,834.5L1729.7,838.1L1730.1,841.8L1730.4,845.7L1730.6,849.7L1730.6,853.8L1730.5,857.9L1730.3,862.2L1730.0,866.6L1729.6,871.0L1729.1,875.5L1728.4,880.0L1727.6,884.5L1726.8,889.0L1725.8,893.6L1724.7,898.1L1723.5,902.7L1722.2,907.1L1720.8,911.6L1719.3,916.0L1717.8,920.3L1716.1,924.5L1714.4,928.6L1712.6,932.6L1710.7,936.6L1708.7,940.3L1706.7,944.0L1704.7,947.5L1702.6,950.8L1700.4,954.0L1698.3,957.0L1696.1,959.8L1693.8,962.4L1691.6,964.8L1689.3,967.0L1687.0,969.0L1684.8,970.8L1682.5,972.4L1680.3,973.7L1678.0,974.8L1675.8,975.7L1673.6,976.4L1671.5,976.8" fill="none" stroke-width="3" />
<path d="M1709.2,813.3C1708.9,823.4 1708.7,833.4 1707.5,843.3C1706.2,854.5 1704.3,865.7 1701.7,876.7C1699.0,888.0 1695.2,898.9 1691.7,910.0C1688.5,920.1 1685.6,930.2 1681.7,940.0C1678.9,946.9 1675.3,953.5 1671.7,960.0" fill="none" stroke-width="8"/>
<ellipse cx="1676.2" cy="809.2" rx="10.0" ry="21.7" transform="rotate(16 1676.2 809.2)" fill="#000" stroke-width="1"/>
<ellipse stroke="#fff" cx="1677.7" cy="808.8" rx="5.2" ry="15.0" transform="rotate(16 1677.7 808.8)" fill="#fff" stroke-width="1"/>
<ellipse cx="1647.0" cy="884.2" rx="10.0" ry="21.7" transform="rotate(16 1647.0 884.2)" fill="#000" stroke-width="1"/>
<ellipse stroke="#fff" cx="1648.5" cy="883.8" rx="5.2" ry="15.0" transform="rotate(16 1648.5 883.8)" fill="#fff" stroke-width="1"/>
<ellipse cx="1759.5" cy="894.2" rx="10.0" ry="21.7" transform="rotate(16 1759.5 894.2)" fill="#000" stroke-width="1"/>
<ellipse stroke="#fff" cx="1761.0" cy="893.8" rx="5.2" ry="15.0" transform="rotate(16 1761.0 893.8)" fill="#fff" stroke-width="1"/>
<ellipse cx="1638.7" cy="955.8" rx="10.0" ry="21.7" transform="rotate(16 1638.7 955.8)" fill="#000" stroke-width="1"/>
<ellipse stroke="#fff" cx="1640.2" cy="955.5" rx="5.2" ry="15.0" transform="rotate(16 1640.2 955.5)" fill="#fff" stroke-width="1"/>
<ellipse cx="1655.3" cy="1015.8" rx="10.0" ry="21.7" transform="rotate(16 1655.3 1015.8)" fill="#000" stroke-width="1"/>
<ellipse stroke="#fff" cx="1656.8" cy="1015.5" rx="5.2" ry="15.0" transform="rotate(16 1656.8 1015.5)" fill="#fff" stroke-width="1"/>
<ellipse cx="1690.3" cy="1020.8" rx="10.0" ry="21.7" transform="rotate(16 1690.3 1020.8)" fill="#000" stroke-width="1"/>
<ellipse stroke="#fff" cx="1691.8" cy="1020.5" rx="5.2" ry="15.0" transform="rotate(16 1691.8 1020.5)" fill="#fff" stroke-width="1"/>
<path d="M1725.3,752.3L1724.8,750.9L1724.1,749.7L1723.4,748.6L1722.5,747.8L1721.6,747.3L1720.6,746.9L1719.5,746.8L1718.4,746.9L1717.2,747.3L1716.0,747.9L1714.8,748.7L1713.6,749.7L1712.4,751.0L1711.3,752.4L1710.2,754.0L1709.1,755.7L1708.1,757.6L1707.2,759.6L1706.4,761.7L1705.7,763.9L1705.0,766.0L1704.5,768.3L1704.1,770.5L1703.9,772.6L1703.8,774.7L1703.7,776.8L1703.9,778.7L1704.1,780.5L1704.5,782.1L1705.0,783.6L1705.6,784.9L1706.3,786.0L1707.1,786.9L1708.0,787.5L1709.0,788.0L1710.1,788.2L1711.2,788.1L1712.3,787.9L1713.5,787.4L1714.7,786.6" fill="none" stroke-width="7"/>
<path d="M1745.6,758.6L1746.6,757.0L1747.7,755.5L1748.8,754.1L1749.9,753.0L1751.1,752.1L1752.2,751.4L1753.3,750.9L1754.4,750.7L1755.4,750.7L1756.4,750.9L1757.3,751.4L1758.1,752.0L1758.8,753.0L1759.4,754.1L1759.9,755.4L1760.3,756.9L1760.6,758.5L1760.8,760.3L1760.9,762.2L1760.8,764.3L1760.6,766.4" fill="none" stroke-width="6"/>
<path d="M1753.4,785.6L1752.3,787.0L1751.1,788.3L1750.0,789.3L1748.9,790.1L1747.7,790.6L1746.6,790.9L1745.6,791.0L1744.6,790.9L1743.7,790.5L1742.8,789.8L1742.1,789.0L1741.4,787.9L1740.9,786.6L1740.4,785.2L1740.1,783.6L1739.9,781.8" fill="none" stroke-width="6"/>
</g>
<g id="p07_bolt13">
<path d="M1956.7,813.3L1967.1,805.0L1975.7,804.8L2000.5,811.4C2001.8,813.2 2003.2,815.0 2003.5,817.1C2004.5,822.8 2005.0,828.6 2004.5,834.3C2004.0,839.5 2002.7,844.7 2000.7,849.5C1998.8,854.1 1995.9,858.2 1992.9,862.1C1991.0,864.4 1988.6,866.1 1986.2,867.8L1979.5,867.8L1957.6,862.1C1955.4,859.3 1953.3,856.5 1951.9,853.3C1950.9,851.0 1950.8,848.3 1950.8,845.7L1883.3,828.8C1881.8,828.0 1880.3,827.2 1880.1,825.7C1879.2,819.1 1878.7,812.2 1880.1,805.7C1880.8,802.5 1883.6,800.1 1886.2,798.1C1887.7,796.9 1889.8,796.8 1891.9,796.8L1956.7,813.3" fill="#fff" stroke-width="8"/>
<path d="M1956.7,813.3C1955.6,817.8 1954.6,822.2 1953.8,826.7C1952.7,833.0 1951.7,839.4 1950.8,845.7" fill="none" stroke-width="8"/>
<path d="M1894.0,802.9C1892.3,804.6 1890.6,806.4 1889.7,808.6C1888.7,811.3 1888.4,814.3 1888.5,817.1C1888.5,820.4 1889.3,823.5 1890.0,826.7" fill="none" stroke-width="3.3"/>
<path d="M1905.0,805.7C1903.2,807.5 1901.5,809.2 1900.7,811.4C1899.6,814.1 1899.4,817.1 1899.4,820.0C1899.5,823.2 1900.2,826.4 1901.0,829.5" fill="none" stroke-width="3.3"/>
<path d="M1915.9,808.6C1914.2,810.3 1912.5,812.1 1911.6,814.3C1910.6,817.0 1910.3,820.0 1910.4,822.9C1910.4,826.1 1911.2,829.2 1911.9,832.4" fill="none" stroke-width="3.3"/>
<path d="M1926.9,811.4C1925.1,813.2 1923.4,814.9 1922.6,817.1C1921.5,819.8 1921.3,822.8 1921.3,825.7C1921.4,828.9 1922.1,832.1 1922.9,835.2" fill="none" stroke-width="3.3"/>
<path d="M1937.8,814.3C1936.1,816.0 1934.4,817.8 1933.5,820.0C1932.5,822.7 1932.2,825.7 1932.3,828.6C1932.3,831.8 1933.1,834.9 1933.8,838.1" fill="none" stroke-width="3.3"/>
<path d="M1948.8,817.1C1947.0,818.9 1945.3,820.6 1944.5,822.9C1943.4,825.5 1943.2,828.5 1943.2,831.4C1943.3,834.6 1944.0,837.8 1944.8,841.0" fill="none" stroke-width="3.3"/>
<path d="M1985.2,814.3C1982.5,818.2 1979.8,822.2 1978.1,826.7C1976.3,831.5 1975.3,836.7 1975.0,841.9C1974.5,848.2 1975.2,854.6 1975.9,861.0" fill="none" stroke-width="3.5"/>
<path d="M1983.3,828.6L1992.9,822.4L1996.7,831.4L1992.9,847.6L1984.3,854.3L1980.0,843.8Z" fill="none" stroke-width="4"/>
</g>
<g id="p08_pads">
<path d="M871.7,1348.3C865.7,1345.5 859.8,1342.6 853.3,1341.7C848.4,1340.9 842.9,1341.3 838.3,1343.3C836.0,1344.4 834.7,1347.4 834.3,1350.0C833.3,1356.6 833.6,1363.4 834.3,1370.0C835.0,1375.7 836.4,1381.3 838.3,1386.7C840.5,1392.5 843.2,1398.2 846.7,1403.3C849.9,1408.2 854.1,1412.5 858.3,1416.7" fill="#fff" stroke-width="8"/>
<path d="M953.3,1228.3C955.5,1227.0 957.6,1225.7 960.0,1225.3C964.4,1224.6 969.0,1224.0 973.3,1225.0C982.6,1227.2 991.0,1231.9 1000.0,1235.0C1008.8,1238.0 1018.2,1239.4 1026.7,1243.3C1033.9,1246.7 1041.0,1251.0 1046.7,1256.7C1051.2,1261.2 1054.8,1267.1 1056.7,1273.3C1058.9,1280.8 1059.2,1288.9 1058.7,1296.7C1058.0,1306.8 1055.1,1316.7 1053.3,1326.7C1051.6,1336.7 1049.0,1346.5 1048.3,1356.7C1047.6,1367.8 1048.6,1378.9 1049.3,1390.0C1050.1,1401.1 1052.2,1412.2 1052.7,1423.3C1053.0,1431.1 1053.4,1439.1 1051.7,1446.7C1050.3,1452.7 1047.1,1458.4 1043.3,1463.3C1038.6,1469.6 1032.5,1474.7 1026.7,1480.0C1020.2,1485.8 1013.6,1491.5 1006.7,1496.7C1000.3,1501.5 993.4,1505.6 986.7,1510.0C981.1,1513.6 975.6,1517.1 970.0,1520.7C969.7,1524.9 969.5,1529.2 968.3,1533.3C967.2,1537.4 965.9,1541.7 963.3,1545.0C959.7,1549.6 954.4,1552.8 950.0,1556.7C945.6,1560.6 941.7,1565.2 936.7,1568.3C933.2,1570.5 929.0,1572.7 925.0,1572.0C921.4,1571.4 918.2,1568.3 916.7,1565.0C914.6,1560.4 915.6,1555.0 915.0,1550.0C914.5,1545.6 914.5,1541.0 913.3,1536.7C911.7,1530.9 909.1,1525.4 906.7,1520.0C903.6,1513.2 899.6,1506.9 896.7,1500.0C893.4,1492.4 891.0,1484.5 888.3,1476.7C886.0,1470.0 884.8,1463.0 881.7,1456.7C879.2,1451.7 874.7,1448.0 871.7,1443.3C868.1,1437.9 863.9,1432.8 861.7,1426.7C859.4,1420.3 858.6,1413.4 858.3,1406.7C858.1,1401.1 858.8,1395.4 860.0,1390.0C861.6,1383.1 864.0,1376.5 866.7,1370.0C869.0,1364.3 872.9,1359.2 875.0,1353.3C877.3,1346.9 878.7,1340.1 880.0,1333.3C882.1,1322.3 883.1,1311.1 885.0,1300.0C887.0,1288.8 889.1,1277.7 891.7,1266.7C894.1,1256.6 897.4,1246.7 900.0,1236.7C902.6,1226.7 905.6,1216.8 907.3,1206.7C908.4,1200.1 907.8,1193.3 908.3,1186.7C908.7,1182.2 907.3,1176.9 910.0,1173.3C913.0,1169.4 918.5,1167.6 923.3,1166.7C929.9,1165.4 937.0,1164.5 943.3,1166.7C948.9,1168.6 952.2,1174.5 956.7,1178.3C960.0,1181.2 964.6,1182.8 966.7,1186.7C968.5,1190.1 969.3,1195.0 967.3,1198.3C965.3,1201.7 960.3,1201.8 956.7,1203.3C953.9,1204.5 949.6,1204.0 948.3,1206.7C946.6,1210.2 948.5,1214.5 949.3,1218.3C950.1,1221.8 951.7,1225.1 953.3,1228.3Z" fill="#fff" stroke-width="8"/>
<path d="M943.3,1175.0C936.8,1176.4 930.2,1177.7 925.0,1181.7C921.6,1184.3 920.3,1189.1 919.3,1193.3C918.1,1198.8 919.2,1204.5 918.3,1210.0C917.2,1217.9 915.5,1225.7 913.3,1233.3C910.5,1243.5 906.0,1253.1 903.3,1263.3C900.4,1274.3 898.5,1285.5 896.7,1296.7C894.6,1308.8 893.5,1321.1 891.7,1333.3C890.7,1340.0 890.4,1346.9 888.3,1353.3C885.4,1362.6 880.3,1371.0 876.7,1380.0C873.6,1387.7 870.0,1395.2 868.3,1403.3C867.2,1408.8 867.0,1414.6 868.3,1420.0C869.8,1426.0 873.7,1431.2 876.7,1436.7C880.4,1443.4 884.3,1450.1 888.3,1456.7" fill="none" stroke-width="3"/>
<path d="M906.7,1263.3C910.9,1259.7 915.2,1256.1 920.0,1253.3C926.4,1249.6 933.1,1246.6 940.0,1244.0C944.8,1242.2 950.3,1242.1 955.0,1240.0C957.1,1239.0 957.9,1236.1 960.0,1235.0C964.2,1232.7 968.8,1231.4 973.3,1230.0" fill="none" stroke-width="3"/>
<path d="M1000.0,1246.7C991.0,1249.2 982.1,1251.7 973.3,1255.0C964.2,1258.4 954.6,1261.1 946.7,1266.7C940.9,1270.8 936.3,1276.9 933.3,1283.3C930.0,1290.6 929.7,1298.8 928.3,1306.7C926.4,1317.7 925.0,1328.9 923.3,1340.0C921.7,1351.1 920.0,1362.2 918.3,1373.3C917.2,1381.1 916.1,1388.9 915.0,1396.7C919.6,1398.7 924.1,1400.7 928.3,1403.3C931.4,1405.2 935.3,1406.7 936.7,1410.0C938.4,1414.1 938.4,1419.2 936.7,1423.3C935.3,1426.6 931.0,1427.6 928.3,1430.0C925.4,1432.6 921.3,1434.6 920.0,1438.3C918.0,1444.1 918.7,1450.6 919.3,1456.7C920.3,1465.7 923.1,1474.4 925.0,1483.3C926.7,1491.1 928.4,1498.9 930.0,1506.7C931.2,1512.2 932.2,1517.8 933.3,1523.3" fill="none" stroke-width="3"/>
<path d="M1000.0,1246.7C1004.5,1246.1 1008.9,1245.5 1013.3,1246.0C1019.0,1246.6 1024.5,1248.3 1030.0,1250.0" fill="none" stroke-width="3"/>
<path d="M913.3,1523.3C917.7,1525.2 922.1,1527.1 926.7,1528.3C932.1,1529.8 937.7,1531.7 943.3,1531.7C949.0,1531.7 954.7,1530.3 960.0,1528.3C963.8,1526.9 966.9,1524.3 970.0,1521.7" fill="none" stroke-width="3"/>
<path d="M891.7,1353.3C890.2,1360.0 888.7,1366.6 888.3,1373.3C888.1,1377.8 887.5,1383.0 890.0,1386.7C893.0,1391.0 899.6,1391.3 903.3,1395.0C905.4,1397.1 906.4,1400.4 906.7,1403.3C907.0,1406.7 906.9,1410.5 905.0,1413.3C903.2,1416.0 899.0,1416.0 896.7,1418.3C894.4,1420.6 892.2,1423.5 891.7,1426.7C890.5,1433.2 891.0,1440.0 891.7,1446.7C892.6,1455.7 894.7,1464.5 896.7,1473.3C898.6,1482.3 900.4,1491.3 903.3,1500.0C906.0,1508.0 909.7,1515.7 913.3,1523.3" fill="none" stroke-width="3"/>
<ellipse cx="881.7" cy="1410.0" rx="6.7" ry="11.7" transform="rotate(30 881.7 1410.0)" fill="none" stroke-width="3"/>
<path d="M843.3,1353.3C845.6,1358.9 847.9,1364.4 850.0,1370.0C852.3,1376.1 854.5,1382.2 856.7,1388.3" fill="none" stroke-width="3"/>
<path d="M916.7,1533.3C919.5,1536.4 922.3,1539.5 923.3,1543.3C925.1,1549.8 925.1,1556.6 925.0,1563.3" fill="none" stroke-width="3"/>
<path d="M1168.3,1290.0C1163.2,1289.9 1158.0,1289.8 1153.3,1291.7C1149.3,1293.3 1145.4,1296.2 1143.3,1300.0C1140.1,1306.1 1139.3,1313.2 1138.3,1320.0C1136.5,1332.1 1136.3,1344.5 1135.0,1356.7C1133.5,1370.0 1131.3,1383.3 1130.0,1396.7C1129.1,1405.5 1127.9,1414.4 1128.3,1423.3C1128.5,1426.8 1130.5,1430.0 1131.7,1433.3C1136.6,1446.7 1143.9,1459.4 1146.7,1473.3C1149.0,1485.3 1145.3,1497.9 1146.7,1510.0C1147.6,1518.0 1150.6,1525.7 1153.3,1533.3C1156.2,1541.3 1159.5,1549.1 1163.3,1556.7C1166.2,1562.5 1169.8,1567.9 1173.3,1573.3" fill="#fff" stroke-width="8"/>
<path d="M1226.7,1291.7C1231.0,1289.1 1235.3,1286.5 1240.0,1286.7C1249.2,1287.0 1258.0,1290.3 1266.7,1293.3C1273.7,1295.8 1280.3,1299.5 1286.7,1303.3C1291.4,1306.2 1296.7,1308.8 1300.0,1313.3C1303.5,1318.1 1305.5,1324.1 1306.0,1330.0C1306.7,1337.8 1304.8,1345.6 1303.3,1353.3C1301.7,1362.3 1297.7,1370.9 1296.7,1380.0C1295.7,1388.8 1296.6,1397.8 1297.3,1406.7C1298.3,1417.8 1300.4,1428.9 1301.7,1440.0C1302.9,1451.1 1305.0,1462.2 1305.0,1473.3C1305.0,1479.0 1304.0,1484.8 1301.7,1490.0C1298.9,1496.2 1294.1,1501.3 1290.0,1506.7C1284.7,1513.5 1279.2,1520.2 1273.3,1526.7C1268.0,1532.5 1262.7,1538.2 1256.7,1543.3C1251.5,1547.7 1245.3,1550.8 1240.0,1555.0C1236.9,1557.5 1233.3,1559.8 1231.7,1563.3C1229.8,1567.4 1229.0,1572.3 1230.0,1576.7C1230.8,1580.1 1234.0,1582.6 1236.7,1585.0C1239.1,1587.2 1243.7,1587.1 1245.0,1590.0C1246.8,1594.0 1246.5,1599.1 1245.0,1603.3C1243.5,1607.4 1239.8,1610.4 1236.7,1613.3C1232.0,1617.6 1226.7,1621.2 1221.7,1625.0C1217.8,1627.9 1214.5,1631.7 1210.0,1633.3C1206.9,1634.4 1203.0,1634.2 1200.0,1632.7C1197.0,1631.2 1194.2,1628.3 1193.3,1625.0C1191.8,1619.1 1194.6,1612.6 1193.3,1606.7C1192.3,1601.8 1188.7,1597.9 1186.7,1593.3C1183.2,1585.6 1179.6,1577.9 1176.7,1570.0C1173.0,1560.1 1169.7,1550.1 1166.7,1540.0C1164.7,1533.4 1164.7,1526.1 1161.7,1520.0C1159.0,1514.7 1153.8,1511.2 1150.0,1506.7C1145.4,1501.2 1140.3,1496.1 1136.7,1490.0C1133.0,1483.8 1129.4,1477.1 1128.3,1470.0C1127.1,1462.3 1128.0,1454.2 1130.0,1446.7C1131.9,1439.5 1136.2,1433.1 1140.0,1426.7C1143.4,1420.8 1148.8,1416.2 1151.7,1410.0C1155.0,1402.6 1156.9,1394.6 1158.3,1386.7C1160.3,1375.7 1160.1,1364.4 1161.7,1353.3C1162.9,1344.4 1164.7,1335.5 1166.7,1326.7C1169.2,1315.5 1172.5,1304.5 1175.0,1293.3C1177.0,1284.5 1179.4,1275.7 1180.0,1266.7C1180.5,1260.0 1179.2,1253.3 1178.3,1246.7C1177.6,1241.1 1171.8,1234.7 1175.0,1230.0C1178.6,1224.8 1187.1,1226.0 1193.3,1225.0C1200.5,1223.8 1207.9,1221.9 1215.0,1223.3C1219.7,1224.3 1223.3,1228.3 1226.7,1231.7C1229.5,1234.5 1232.2,1237.8 1233.3,1241.7C1234.5,1245.4 1235.3,1250.0 1233.3,1253.3C1231.4,1256.5 1226.0,1255.7 1223.3,1258.3C1221.2,1260.4 1220.3,1263.7 1220.0,1266.7C1219.4,1272.2 1219.2,1278.0 1220.7,1283.3C1221.5,1286.6 1224.1,1289.2 1226.7,1291.7Z" fill="#fff" stroke-width="8"/>
<path d="M1186.7,1236.7C1186.5,1241.3 1186.3,1246.0 1188.3,1250.0C1189.9,1253.2 1196.0,1253.2 1196.7,1256.7C1198.5,1266.5 1196.7,1276.8 1195.0,1286.7C1193.4,1295.8 1189.4,1304.4 1186.7,1313.3C1183.3,1324.4 1179.5,1335.4 1176.7,1346.7C1173.9,1357.7 1171.9,1368.8 1170.0,1380.0C1168.5,1388.8 1169.1,1398.1 1166.7,1406.7C1164.6,1413.8 1159.4,1419.7 1156.7,1426.7C1153.3,1435.3 1149.9,1444.1 1148.3,1453.3C1147.1,1461.0 1146.7,1469.1 1148.3,1476.7C1150.1,1484.9 1154.3,1492.6 1158.3,1500.0C1161.6,1506.0 1166.3,1511.0 1170.0,1516.7C1173.5,1522.1 1177.3,1527.5 1180.0,1533.3C1184.0,1542.0 1186.7,1551.1 1190.0,1560.0C1193.3,1568.9 1195.8,1578.2 1200.0,1586.7C1202.5,1591.6 1208.1,1594.8 1210.0,1600.0C1211.9,1605.2 1211.9,1611.2 1210.7,1616.7C1210.1,1619.1 1207.6,1620.4 1205.0,1621.7" fill="none" stroke-width="3"/>
<path d="M1166.7,1406.7C1167.8,1423.3 1169.0,1440.0 1170.0,1456.7C1171.2,1476.7 1172.3,1496.7 1173.3,1516.7" fill="none" stroke-width="3"/>
<path d="M1183.3,1235.7L1213.3,1230.0" fill="none" stroke-width="3"/>
<path d="M1226.7,1287.3L1243.3,1290.0L1230.0,1295.0" fill="none" stroke-width="3"/>
<path d="M1158.3,1520.0C1160.6,1526.7 1162.9,1533.3 1165.0,1540.0C1166.8,1545.5 1168.4,1551.1 1170.0,1556.7" fill="none" stroke-width="3"/>
</g>
<g id="p09_caliper">
<path d="M513.8,1762.5C511.8,1759.1 509.8,1755.7 507.5,1752.5C503.9,1747.4 499.2,1743.0 496.2,1737.5C492.5,1730.4 490.1,1722.6 487.5,1715.0C484.7,1706.8 481.9,1698.5 480.0,1690.0C478.2,1681.8 477.4,1673.3 476.2,1665.0C475.1,1656.7 473.2,1648.4 473.0,1640.0C472.8,1634.1 473.4,1628.2 475.0,1622.5C475.8,1619.6 477.9,1617.3 480.0,1615.0C484.8,1614.8 489.6,1614.7 493.8,1612.5C496.4,1611.1 497.6,1608.0 498.8,1605.0C498.4,1595.8 498.0,1586.7 497.5,1577.5C497.2,1571.7 497.4,1565.7 496.2,1560.0C495.7,1557.3 494.1,1554.9 492.5,1552.5C485.7,1548.5 478.9,1544.6 472.5,1540.0C470.7,1538.7 469.3,1536.8 468.0,1535.0C468.6,1530.0 469.1,1525.0 470.0,1520.0C471.5,1511.6 473.1,1503.3 475.0,1495.0C477.3,1484.9 479.6,1474.9 482.5,1465.0C485.0,1456.5 488.1,1448.2 491.2,1440.0C493.5,1434.1 496.5,1428.4 498.8,1422.5C500.3,1418.4 501.4,1414.2 502.5,1410.0L522.5,1403.8L527.5,1392.5L572.5,1386.2C573.5,1385.5 574.4,1384.8 575.0,1383.8C577.0,1380.1 577.4,1375.7 580.0,1372.5C582.6,1369.2 586.3,1366.9 590.0,1365.0C594.7,1362.5 599.7,1360.1 605.0,1359.5C611.7,1358.8 618.4,1360.1 625.0,1361.2C633.5,1362.8 641.7,1365.2 650.0,1367.5C656.7,1369.4 663.8,1370.6 670.0,1373.8C673.2,1375.3 675.3,1378.3 677.5,1381.2C686.6,1378.9 695.8,1376.6 705.0,1377.5C709.1,1377.9 711.9,1382.3 715.0,1385.0C721.9,1391.0 727.4,1398.7 735.0,1403.8C738.6,1406.1 743.7,1404.3 747.5,1406.2C749.9,1407.4 750.5,1410.7 752.5,1412.5C755.6,1415.3 760.8,1416.2 762.5,1420.0C766.1,1427.7 765.5,1436.7 767.5,1445.0C769.7,1454.2 772.5,1463.3 775.0,1472.5C777.1,1480.0 780.0,1487.3 781.2,1495.0C782.6,1503.2 783.3,1511.7 782.5,1520.0C782.0,1525.2 779.7,1530.2 777.5,1535.0C774.7,1541.1 770.3,1546.4 767.5,1552.5C765.7,1556.5 764.0,1560.7 763.8,1565.0C763.3,1573.3 765.1,1581.7 765.5,1590.0C765.9,1598.3 766.3,1606.7 766.2,1615.0C766.2,1625.0 765.6,1635.0 765.0,1645.0C764.8,1649.2 762.4,1653.5 763.8,1657.5C765.2,1661.7 769.6,1664.2 772.5,1667.5C775.4,1670.8 779.6,1673.4 781.2,1677.5C784.4,1685.4 785.5,1694.0 786.2,1702.5C786.8,1709.2 785.8,1715.9 785.0,1722.5C783.3,1736.7 781.1,1750.9 778.8,1765.0C777.4,1773.4 775.7,1781.7 773.8,1790.0C772.8,1794.2 772.7,1799.1 770.0,1802.5C767.7,1805.4 762.3,1804.6 760.0,1807.5C757.0,1811.3 758.0,1817.4 755.0,1821.2C753.4,1823.3 750.1,1824.2 747.5,1823.8C744.2,1823.2 741.5,1821.0 738.8,1818.8C734.2,1820.0 729.6,1821.3 725.0,1822.5C715.0,1825.1 705.0,1827.5 695.0,1830.0C686.7,1832.1 678.5,1834.9 670.0,1836.2C665.1,1837.0 659.9,1837.2 655.0,1836.2C648.9,1835.1 643.3,1832.2 637.5,1830.0C630.0,1827.2 622.4,1824.5 615.0,1821.2C608.2,1818.2 601.2,1815.4 595.0,1811.2C591.8,1809.1 589.3,1805.9 587.5,1802.5C585.0,1797.8 583.8,1792.7 582.5,1787.5C580.1,1786.0 577.7,1784.5 575.0,1783.8C567.6,1781.6 560.1,1780.2 552.5,1778.8" fill="#fff" stroke-width="8"/>
<path d="M540.0,1421.2C538.0,1422.2 535.9,1423.1 535.0,1425.0C530.8,1433.8 528.1,1443.2 525.0,1452.5C521.4,1463.3 518.1,1474.1 515.0,1485.0C512.2,1494.9 509.5,1504.9 507.5,1515.0C506.2,1521.6 504.4,1528.3 505.0,1535.0C505.3,1538.0 507.7,1540.5 510.0,1542.5C513.7,1545.7 519.1,1546.6 522.5,1550.0C525.1,1552.6 526.3,1556.5 527.5,1560.0C529.7,1566.5 531.1,1573.3 532.5,1580.0C534.0,1587.4 535.9,1594.9 536.2,1602.5C536.7,1610.8 536.3,1619.3 535.0,1627.5C534.2,1632.7 531.0,1637.3 530.0,1642.5C528.9,1648.2 530.3,1654.4 528.8,1660.0C527.7,1663.8 525.9,1668.0 522.5,1670.0C518.9,1672.2 514.0,1669.9 510.0,1671.2C508.6,1671.7 507.3,1673.5 507.5,1675.0C508.2,1681.8 510.5,1688.4 512.5,1695.0C515.5,1705.1 518.5,1715.2 522.5,1725.0C526.5,1734.8 531.4,1744.3 536.2,1753.8" fill="none" stroke-width="3"/>
<path d="M540.0,1421.2L632.5,1442.5" fill="none" stroke-width="3"/>
<path d="M510.0,1413.8C516.7,1414.6 523.3,1415.5 530.0,1415.0C544.3,1413.9 558.4,1411.3 572.5,1408.8" fill="none" stroke-width="3"/>
<path d="M530.0,1417.5C523.8,1431.5 517.6,1445.6 512.5,1460.0C507.6,1473.9 503.1,1488.1 500.0,1502.5C496.8,1517.3 495.3,1532.4 493.8,1547.5" fill="none" stroke-width="3"/>
<path d="M582.5,1382.5C584.7,1385.2 586.9,1387.9 590.0,1388.8C593.2,1389.7 596.7,1388.2 600.0,1387.5C604.2,1386.6 608.2,1382.9 612.5,1383.8C617.5,1384.7 621.2,1389.2 625.0,1392.5C630.4,1397.1 635.0,1402.5 640.0,1407.5C643.3,1410.8 645.9,1415.2 650.0,1417.5C654.5,1420.0 660.0,1420.0 665.0,1421.2C670.0,1422.5 675.9,1421.8 680.0,1425.0C682.7,1427.1 682.6,1431.1 682.5,1435.0" fill="none" stroke-width="3"/>
<path d="M580.0,1406.2C586.7,1405.7 593.4,1405.2 600.0,1406.2C616.9,1409.0 633.4,1413.2 650.0,1417.5" fill="none" stroke-width="3"/>
<path d="M580.0,1406.2L692.5,1438.8" fill="none" stroke-width="3"/>
<path d="M600.0,1368.8C608.4,1370.7 616.7,1372.6 625.0,1375.0C632.6,1377.2 640.7,1378.5 647.5,1382.5C651.8,1385.0 653.6,1390.5 657.5,1393.8C661.2,1396.9 665.3,1399.9 670.0,1401.2C678.1,1403.7 686.6,1404.4 695.0,1405.0C705.0,1405.8 715.0,1405.6 725.0,1405.5" fill="none" stroke-width="3"/>
<path d="M732.5,1407.5L733.8,1437.5" fill="none" stroke-width="3"/>
<path d="M682.5,1436.2C691.6,1433.3 700.7,1430.3 710.0,1431.2C714.4,1431.7 716.0,1438.2 720.0,1440.0C725.4,1442.5 731.6,1444.3 737.5,1443.8C741.4,1443.4 745.5,1440.9 747.5,1437.5C749.7,1433.9 749.2,1429.2 748.8,1425.0C748.3,1420.7 746.7,1416.6 745.0,1412.5" fill="none" stroke-width="3"/>
<path d="M692.5,1438.8C693.7,1442.1 694.9,1445.4 697.5,1447.5C701.4,1450.6 708.0,1449.9 711.2,1453.8C714.9,1458.1 714.5,1464.6 716.2,1470.0C717.4,1473.4 718.7,1476.7 720.0,1480.0C724.9,1475.5 729.8,1470.9 732.5,1465.0C735.0,1459.6 735.0,1453.6 735.0,1447.5" fill="none" stroke-width="3"/>
<path d="M720.0,1480.0C720.0,1483.8 720.0,1487.7 722.5,1490.0C726.5,1493.7 732.4,1494.4 737.5,1496.2C741.6,1497.7 746.5,1497.4 750.0,1500.0C753.2,1502.3 755.3,1506.2 756.2,1510.0C757.9,1516.5 757.3,1523.3 757.5,1530.0C757.7,1535.8 757.6,1541.7 757.5,1547.5" fill="none" stroke-width="3"/>
<path d="M650.0,1446.2L677.5,1443.8" fill="none" stroke-width="3"/>
<path d="M650.0,1447.5L661.2,1491.2C651.0,1495.1 640.8,1499.0 630.0,1500.0C627.0,1500.3 623.8,1497.7 622.5,1495.0C621.0,1492.0 621.5,1488.2 622.5,1485.0C626.2,1473.0 631.2,1461.5 636.2,1450.0" fill="none" stroke-width="3"/>
<path d="M680.0,1446.2C674.8,1456.9 669.5,1467.5 666.2,1478.8C665.6,1480.9 667.2,1483.0 668.8,1485.0C681.5,1481.4 694.3,1477.9 707.5,1477.5C709.9,1477.4 710.6,1480.6 711.2,1483.8C707.3,1494.1 703.3,1504.4 700.0,1515.0C696.2,1527.4 692.7,1539.9 690.0,1552.5C687.3,1564.9 685.2,1577.4 683.8,1590.0C682.3,1602.4 681.2,1615.0 681.2,1627.5C681.2,1643.4 682.3,1659.2 683.8,1675.0C684.4,1681.8 685.7,1688.5 687.5,1695.0C689.4,1701.9 692.3,1708.4 695.0,1715.0C697.7,1721.7 700.5,1728.5 703.8,1735.0C706.3,1740.2 710.0,1744.8 712.5,1750.0C714.4,1754.0 716.8,1758.1 717.0,1762.5C717.2,1766.8 716.2,1771.4 713.8,1775.0C711.9,1777.8 708.3,1779.2 705.0,1780.0C696.0,1782.2 686.8,1783.0 677.5,1783.8" fill="none" stroke-width="3"/>
<path d="M636.2,1502.5C632.1,1514.9 628.0,1527.3 625.0,1540.0C622.1,1552.3 620.2,1564.9 618.8,1577.5C617.3,1589.9 616.5,1602.5 616.2,1615.0C616.0,1627.5 616.7,1640.0 617.5,1652.5C618.3,1665.0 619.5,1677.6 621.2,1690.0C622.4,1698.4 624.3,1706.7 626.2,1715.0" fill="none" stroke-width="3"/>
<path d="M631.2,1735.0C633.1,1741.8 634.9,1748.5 637.5,1755.0C639.1,1759.0 641.4,1762.6 643.8,1766.2" fill="none" stroke-width="3"/>
<path d="M562.5,1561.2C557.9,1561.7 553.3,1562.2 550.0,1565.0C546.5,1568.1 544.7,1572.9 543.8,1577.5C542.9,1581.6 544.2,1585.9 545.0,1590.0C546.3,1596.7 549.2,1603.2 550.0,1610.0C550.9,1617.4 550.7,1625.0 550.0,1632.5C549.4,1639.3 546.2,1645.7 546.2,1652.5C546.2,1657.7 547.5,1663.0 550.0,1667.5C552.3,1671.6 556.0,1675.1 560.0,1677.5C564.5,1680.2 569.7,1682.3 575.0,1682.5C579.3,1682.7 584.2,1681.6 587.5,1678.8C591.4,1675.3 593.4,1670.0 595.0,1665.0C597.6,1656.9 598.9,1648.4 600.0,1640.0C601.0,1631.7 601.7,1623.3 601.2,1615.0C600.8,1606.6 599.7,1598.1 597.5,1590.0C595.9,1583.9 593.7,1577.6 590.0,1572.5C586.9,1568.2 582.4,1564.5 577.5,1562.5C572.9,1560.6 567.7,1560.9 562.5,1561.2" fill="none" stroke-width="3"/>
<path d="M577.5,1566.2C575.0,1569.4 572.6,1572.5 571.2,1576.2C570.0,1579.8 570.0,1583.7 570.0,1587.5C570.0,1590.9 570.6,1594.2 571.2,1597.5C568.4,1599.7 565.5,1601.9 563.8,1605.0C562.0,1608.0 561.5,1611.6 561.2,1615.0C561.1,1617.5 561.8,1620.0 562.5,1622.5C566.3,1623.0 570.1,1623.6 572.5,1626.2C574.2,1628.1 572.9,1631.3 572.5,1633.8C572.0,1636.7 571.0,1639.6 570.0,1642.5C573.2,1646.0 576.3,1649.6 580.0,1652.5C584.7,1656.3 589.8,1659.4 595.0,1662.5" fill="none" stroke-width="3"/>
<path d="M523.8,1562.5C522.1,1568.3 520.4,1574.0 520.0,1580.0C519.5,1587.5 520.3,1595.0 521.2,1602.5C522.0,1608.4 523.4,1614.3 525.0,1620.0C526.7,1626.0 529.0,1631.7 531.2,1637.5" fill="none" stroke-width="3"/>
<path d="M732.5,1562.5C730.1,1561.1 727.8,1559.7 726.2,1557.5C724.7,1555.3 723.9,1552.6 723.8,1550.0C723.5,1546.6 723.9,1543.2 725.0,1540.0C726.0,1537.2 727.5,1534.2 730.0,1532.5C732.1,1531.0 735.1,1530.4 737.5,1531.2C740.3,1532.3 742.4,1534.9 743.8,1537.5C745.4,1540.5 745.6,1544.1 746.2,1547.5C747.3,1553.3 748.1,1559.1 748.8,1565.0C749.4,1570.8 749.7,1576.7 750.0,1582.5" fill="none" stroke-width="3"/>
<path d="M733.8,1562.5C731.1,1571.8 728.5,1581.0 725.0,1590.0C721.4,1599.4 715.7,1607.9 712.5,1617.5C711.4,1620.7 711.6,1624.3 712.5,1627.5C715.0,1636.9 718.9,1645.9 722.5,1655.0C725.5,1662.6 730.5,1669.5 732.5,1677.5C733.5,1681.6 732.4,1686.0 731.2,1690.0C730.7,1692.0 727.8,1692.9 727.5,1695.0C726.9,1698.3 727.1,1702.1 728.8,1705.0C730.3,1707.6 733.2,1710.0 736.2,1710.0C739.3,1710.0 742.0,1707.5 743.8,1705.0C746.8,1700.5 748.4,1695.2 750.0,1690.0C751.3,1686.0 751.9,1681.7 752.5,1677.5" fill="none" stroke-width="3"/>
<path d="M727.5,1542.5C729.6,1544.8 731.7,1547.1 732.5,1550.0C733.4,1553.2 733.0,1556.6 732.5,1560.0" fill="none" stroke-width="3"/>
<path d="M728.8,1695.0C732.5,1695.3 736.3,1695.7 740.0,1695.0C743.1,1694.4 745.9,1692.8 748.8,1691.2" fill="none" stroke-width="3"/>
<path d="M750.0,1422.5C753.2,1423.6 756.4,1424.7 757.5,1427.5C760.5,1435.4 759.3,1444.3 761.2,1452.5C763.5,1461.9 767.7,1470.7 770.0,1480.0C771.8,1487.4 773.3,1494.9 773.8,1502.5C774.2,1510.0 774.5,1517.8 772.5,1525.0C770.7,1531.5 766.5,1537.1 762.5,1542.5C759.0,1547.2 754.5,1551.1 750.0,1555.0C749.5,1563.5 749.0,1572.0 751.2,1580.0C751.8,1582.0 754.7,1581.6 757.5,1581.2" fill="none" stroke-width="3"/>
<path d="M752.5,1425.0C754.9,1436.7 757.4,1448.4 760.0,1460.0C763.0,1473.4 767.8,1486.4 769.5,1500.0C770.5,1508.3 770.3,1517.0 768.0,1525.0C766.2,1531.5 761.8,1537.0 757.5,1542.5" fill="none" stroke-width="3"/>
<path d="M755.0,1650.0C753.3,1654.2 751.6,1658.4 752.5,1662.5C753.4,1666.6 757.4,1669.2 760.0,1672.5C763.3,1676.7 768.0,1680.0 770.0,1685.0C773.2,1692.9 774.6,1701.5 775.0,1710.0C775.5,1720.0 773.9,1730.1 772.5,1740.0C771.4,1748.4 769.1,1756.7 767.5,1765.0C765.4,1775.8 763.3,1786.7 761.2,1797.5" fill="none" stroke-width="3"/>
<path d="M758.8,1662.5C761.8,1666.6 764.9,1670.6 767.5,1675.0C770.3,1679.8 773.5,1684.6 775.0,1690.0C777.3,1698.1 778.0,1706.6 778.8,1715.0" fill="none" stroke-width="3"/>
<path d="M755.0,1677.5C757.1,1681.5 759.3,1685.6 760.0,1690.0C761.4,1698.2 762.3,1706.7 761.2,1715.0C760.6,1720.4 758.2,1725.7 755.0,1730.0C751.8,1734.3 746.5,1736.5 742.5,1740.0C739.0,1743.1 735.1,1746.0 732.5,1750.0C729.5,1754.5 727.4,1759.7 726.2,1765.0C724.5,1773.2 724.1,1781.6 723.8,1790.0" fill="none" stroke-width="3"/>
<path d="M732.5,1750.0C735.6,1751.1 738.8,1752.2 740.0,1755.0C742.0,1759.6 739.5,1765.3 741.2,1770.0C743.0,1774.8 746.8,1778.6 750.0,1782.5C752.2,1785.2 756.4,1786.6 757.5,1790.0C758.7,1794.0 757.5,1798.2 756.2,1802.5" fill="none" stroke-width="3"/>
<path d="M635.0,1771.2C646.3,1770.1 657.6,1769.0 668.8,1770.5C670.8,1770.8 671.8,1774.2 671.2,1776.2C669.2,1783.8 665.2,1790.6 661.2,1797.5" fill="none" stroke-width="3"/>
<path d="M635.0,1772.5L651.2,1800.0" fill="none" stroke-width="3"/>
<path d="M650.0,1777.5C652.3,1778.8 654.6,1780.2 655.0,1782.5C655.6,1785.9 654.0,1789.2 652.5,1792.5" fill="none" stroke-width="3"/>
<path d="M586.2,1787.5C611.1,1794.1 636.0,1800.7 660.0,1810.0C662.6,1811.0 663.4,1814.7 663.8,1817.5C664.2,1820.8 663.6,1824.3 662.5,1827.5C661.5,1830.3 659.5,1832.7 657.5,1835.0" fill="none" stroke-width="3"/>
<path d="M665.0,1813.8C676.9,1814.2 688.8,1814.7 700.0,1811.2C704.8,1809.8 706.4,1803.4 710.0,1800.0C713.9,1796.3 717.3,1791.0 722.5,1790.0C726.9,1789.1 731.3,1792.4 735.0,1795.0C737.4,1796.7 739.8,1799.5 740.0,1802.5C740.3,1807.6 738.3,1812.6 736.2,1817.5" fill="none" stroke-width="3"/>
<path d="M480.0,1647.5C482.7,1649.8 485.5,1652.1 487.5,1655.0C490.1,1658.8 492.5,1663.0 493.8,1667.5C495.8,1674.8 495.7,1682.6 497.5,1690.0C499.5,1698.5 502.2,1706.7 505.0,1715.0C508.1,1724.3 511.5,1733.4 515.0,1742.5C517.3,1748.4 519.9,1754.2 522.5,1760.0" fill="none" stroke-width="3"/>
<path d="M505.0,1737.5L512.5,1740.0" fill="none" stroke-width="3"/>
<path d="M483.8,1627.5C486.5,1629.3 489.3,1631.0 492.5,1631.2C495.9,1631.5 500.4,1631.5 502.5,1628.8C505.3,1625.1 504.6,1619.6 505.0,1615.0C505.4,1610.0 505.2,1605.0 505.0,1600.0" fill="none" stroke-width="3"/>
<path d="M510.0,1420.0C511.7,1422.4 513.4,1424.7 513.8,1427.5C514.2,1430.8 514.0,1434.5 512.5,1437.5C510.9,1440.7 508.1,1443.3 505.0,1445.0C502.4,1446.4 499.3,1446.3 496.2,1446.2" fill="none" stroke-width="3"/>
<path d="M527.5,1401.2L537.5,1398.8" fill="none" stroke-width="3"/>
<path d="M565.0,1401.2C566.9,1400.7 568.8,1400.2 570.0,1398.8C571.5,1397.0 572.0,1394.8 572.5,1392.5" fill="none" stroke-width="3"/>
<ellipse cx="539.5" cy="1508.8" rx="17.0" ry="20.5" transform="rotate(10 539.5 1508.8)" fill="none" stroke-width="3"/>
<path d="M545.0,1495.0C542.5,1498.1 540.0,1501.2 539.5,1505.0C539.1,1508.5 540.5,1512.2 542.5,1515.0C544.2,1517.4 547.1,1518.4 550.0,1519.5" fill="none" stroke-width="3"/>
<ellipse cx="549.5" cy="1716.2" rx="16.2" ry="20.0" transform="rotate(10 549.5 1716.2)" fill="none" stroke-width="3"/>
<path d="M547.5,1702.5C546.0,1705.8 544.6,1709.1 545.0,1712.5C545.5,1716.2 547.0,1720.3 550.0,1722.5C553.5,1725.0 558.0,1725.0 562.5,1725.0" fill="none" stroke-width="3"/>
</g>
<g id="p10_clip">
<path d="M237.3,1800.7C239.2,1805.2 241.1,1809.7 243.3,1814.0C244.8,1816.9 245.4,1821.0 248.3,1822.3C251.9,1824.0 256.2,1822.3 260.0,1821.7C264.0,1821.0 267.9,1816.8 271.7,1818.3C275.6,1819.9 276.3,1825.3 278.3,1829.0C282.5,1836.7 285.5,1844.9 290.0,1852.3C295.0,1860.5 301.0,1868.0 306.7,1875.7C313.2,1884.6 320.0,1893.4 326.7,1902.3C330.0,1906.8 333.3,1911.2 336.7,1915.7" fill="none" stroke-width="13.5"/>
<path d="M336.7,1915.7C339.0,1918.8 341.4,1922.0 342.7,1925.7C344.2,1929.9 344.9,1934.5 345.0,1939.0C345.1,1946.8 345.0,1954.7 343.3,1962.3C341.1,1972.6 336.8,1982.4 333.3,1992.3C330.2,2001.3 326.1,2009.9 323.3,2019.0C320.7,2027.7 318.6,2036.6 317.3,2045.7C315.8,2056.7 315.1,2067.9 315.0,2079.0C314.9,2090.1 316.0,2101.2 316.7,2112.3C317.5,2126.8 318.3,2141.2 319.3,2155.7C320.0,2165.7 319.4,2175.9 321.7,2185.7C323.6,2193.9 328.3,2201.2 331.7,2209.0C335.0,2216.8 339.1,2224.3 341.7,2232.3C344.1,2239.9 345.9,2247.8 346.7,2255.7C347.6,2264.5 348.0,2273.6 346.7,2282.3C345.2,2291.5 342.3,2300.6 338.3,2309.0C334.4,2317.4 328.3,2324.5 323.3,2332.3C317.7,2341.2 312.0,2350.0 306.7,2359.0C302.5,2366.1 298.5,2373.3 295.0,2380.7C292.4,2386.1 291.4,2392.2 288.3,2397.3C286.3,2400.7 283.9,2405.0 280.0,2405.7C276.3,2406.3 272.9,2403.0 270.0,2400.7C265.1,2396.8 261.0,2391.9 256.7,2387.3C253.2,2383.6 249.9,2379.6 246.7,2375.7" fill="none" stroke-width="19"/>
<path stroke="#fff" d="M237.3,1800.7C239.2,1805.2 241.1,1809.7 243.3,1814.0C244.8,1816.9 245.4,1821.0 248.3,1822.3C251.9,1824.0 256.2,1822.3 260.0,1821.7C264.0,1821.0 267.9,1816.8 271.7,1818.3C275.6,1819.9 276.3,1825.3 278.3,1829.0C282.5,1836.7 285.5,1844.9 290.0,1852.3C295.0,1860.5 301.0,1868.0 306.7,1875.7C313.2,1884.6 320.0,1893.4 326.7,1902.3C330.0,1906.8 333.3,1911.2 336.7,1915.7" fill="none" stroke-width="1.6"/>
<path stroke="#fff" d="M336.7,1915.7C339.0,1918.8 341.4,1922.0 342.7,1925.7C344.2,1929.9 344.9,1934.5 345.0,1939.0C345.1,1946.8 345.0,1954.7 343.3,1962.3C341.1,1972.6 336.8,1982.4 333.3,1992.3C330.2,2001.3 326.1,2009.9 323.3,2019.0C320.7,2027.7 318.6,2036.6 317.3,2045.7C315.8,2056.7 315.1,2067.9 315.0,2079.0C314.9,2090.1 316.0,2101.2 316.7,2112.3C317.5,2126.8 318.3,2141.2 319.3,2155.7C320.0,2165.7 319.4,2175.9 321.7,2185.7C323.6,2193.9 328.3,2201.2 331.7,2209.0C335.0,2216.8 339.1,2224.3 341.7,2232.3C344.1,2239.9 345.9,2247.8 346.7,2255.7C347.6,2264.5 348.0,2273.6 346.7,2282.3C345.2,2291.5 342.3,2300.6 338.3,2309.0C334.4,2317.4 328.3,2324.5 323.3,2332.3C317.7,2341.2 312.0,2350.0 306.7,2359.0C302.5,2366.1 298.5,2373.3 295.0,2380.7C292.4,2386.1 291.4,2392.2 288.3,2397.3C286.3,2400.7 283.9,2405.0 280.0,2405.7C276.3,2406.3 272.9,2403.0 270.0,2400.7C265.1,2396.8 261.0,2391.9 256.7,2387.3C253.2,2383.6 249.9,2379.6 246.7,2375.7" fill="none" stroke-width="7"/>
<path d="M301.7,2079.0C299.6,2074.7 297.4,2070.3 296.7,2065.7C294.6,2053.6 294.7,2041.2 293.3,2029.0C292.3,2019.5 290.8,2010.1 289.3,2000.7C288.4,1997.8 287.5,1994.9 285.0,1994.7C275.6,1993.7 265.8,1994.9 256.7,1997.3C253.5,1998.2 251.4,2001.1 249.3,2004.0C253.2,2008.8 257.1,2013.6 260.0,2019.0C261.6,2022.0 263.1,2025.6 262.7,2029.0C261.4,2040.3 258.5,2051.5 255.0,2062.3C249.8,2078.2 242.7,2093.4 236.7,2109.0C232.2,2120.6 226.4,2131.9 223.3,2144.0C222.4,2147.8 223.6,2152.0 225.0,2155.7C229.2,2167.1 235.0,2177.9 240.0,2189.0C245.0,2200.1 249.8,2211.3 255.0,2222.3C257.6,2228.0 260.5,2233.5 263.3,2239.0C260.4,2238.1 257.6,2237.2 255.0,2238.3C253.0,2239.2 251.2,2241.9 251.7,2244.0C252.5,2248.2 255.5,2251.8 258.3,2255.0C260.1,2256.9 262.5,2258.0 265.0,2259.0C274.7,2258.2 284.3,2257.3 293.3,2254.0C295.7,2253.1 296.2,2250.2 296.7,2247.3C296.1,2230.1 295.5,2212.9 296.0,2195.7C296.1,2191.7 296.3,2187.4 298.3,2184.0C299.9,2181.4 303.5,2177.3 306.0,2179.0C309.9,2181.6 310.3,2187.0 310.7,2192.3" fill="none" stroke-width="5.5"/>
<path d="M286.7,1999.0C286.6,2001.3 286.5,2003.6 287.3,2005.7C288.3,2008.1 290.0,2010.2 291.7,2012.3" fill="none" stroke-width="4"/>
<path d="M256.0,2239.0C259.0,2240.2 262.0,2241.3 263.3,2244.0C265.3,2248.0 265.2,2252.7 265.0,2257.3" fill="none" stroke-width="4"/>
<path d="M450.0,2154.0L460.0,2144.0L508.3,2144.0L517.3,2154.0L517.3,2179.0L505.0,2190.7C505.9,2194.6 506.9,2198.5 506.0,2202.3C504.6,2208.3 501.5,2213.8 498.3,2219.0C496.7,2221.7 494.2,2223.7 491.7,2225.7L476.7,2225.7C474.8,2223.6 472.9,2221.5 471.7,2219.0C469.5,2214.8 467.8,2210.3 466.7,2205.7C465.5,2200.8 465.3,2195.7 465.0,2190.7L463.3,2190.7L450.7,2179.0L450.0,2154.0" fill="#fff" stroke-width="7"/>
<path d="M467.3,2157.3C466.7,2136.2 466.0,2115.1 467.3,2094.0C467.5,2091.4 469.6,2089.3 471.7,2087.3L496.7,2087.3C498.6,2089.4 500.5,2091.4 500.7,2094.0C501.9,2115.1 501.3,2136.2 500.7,2157.3" fill="#fff" stroke-width="7"/>
<path d="M474.0,2101.7L495.0,2101.7" fill="none" stroke-width="4"/>
<path d="M474.0,2110.0L495.0,2110.0" fill="none" stroke-width="4"/>
<path d="M474.0,2118.3L495.0,2118.3" fill="none" stroke-width="4"/>
<path d="M474.0,2126.7L495.0,2126.7" fill="none" stroke-width="4"/>
<path d="M474.0,2135.0L495.0,2135.0" fill="none" stroke-width="4"/>
<path d="M456.7,2157.3C461.0,2159.3 465.4,2161.2 470.0,2162.3C474.6,2163.4 479.3,2164.0 484.0,2164.0C488.8,2164.0 493.7,2163.5 498.3,2162.3C502.9,2161.2 507.3,2159.3 511.7,2157.3" fill="none" stroke-width="3.5"/>
<path d="M458.3,2149.7C462.1,2147.9 465.9,2146.1 470.0,2145.7C479.4,2144.7 488.9,2144.7 498.3,2145.7C502.4,2146.1 506.2,2147.9 510.0,2149.7" fill="none" stroke-width="3"/>
<path d="M461.7,2162.3L461.7,2187.3" fill="none" stroke-width="3.5"/>
<path d="M505.0,2162.3L505.0,2187.3" fill="none" stroke-width="3.5"/>
<path d="M461.7,2162.3C463.9,2166.1 466.2,2169.8 470.0,2170.7C479.2,2172.8 489.1,2172.9 498.3,2170.7C501.8,2169.8 503.4,2166.1 505.0,2162.3" fill="none" stroke-width="3"/>
<path d="M465.0,2190.7L505.0,2190.7" fill="none" stroke-width="4"/>
<path d="M468.3,2198.3C473.5,2199.5 478.7,2200.7 484.0,2200.7C489.9,2200.7 495.8,2199.5 501.7,2198.3" fill="none" stroke-width="4"/>
<path d="M473.3,2209.0C476.9,2210.0 480.4,2211.0 484.0,2211.0C488.3,2211.0 492.5,2210.0 496.7,2209.0" fill="none" stroke-width="4"/>
<path d="M451.7,2282.3C451.9,2287.0 452.1,2291.6 454.0,2295.7C456.1,2300.2 459.1,2304.6 463.3,2307.3C468.2,2310.5 474.2,2311.8 480.0,2312.3C485.6,2312.9 491.3,2312.2 496.7,2310.7C501.0,2309.4 505.2,2307.2 508.3,2304.0C511.4,2300.9 512.9,2296.5 514.3,2292.3C515.5,2289.1 515.7,2285.7 516.0,2282.3" fill="#fff" stroke-width="7"/>
<path d="M456.7,2294.0C461.0,2296.6 465.2,2299.2 470.0,2300.7C474.5,2302.0 479.3,2302.3 484.0,2302.3C488.8,2302.3 493.7,2302.1 498.3,2300.7C503.1,2299.2 507.4,2296.6 511.7,2294.0" fill="none" stroke-width="4"/>
<ellipse cx="484.0" cy="2275.0" rx="34.3" ry="20.7" transform="rotate(0 484.0 2275.0)" fill="#fff" stroke-width="7"/>
<ellipse cx="484.0" cy="2273.0" rx="25.0" ry="14.0" transform="rotate(0 484.0 2273.0)" fill="none" stroke-width="4"/>
<ellipse cx="484.0" cy="2271.7" rx="15.0" ry="8.0" transform="rotate(0 484.0 2271.7)" fill="none" stroke-width="4"/>
</g>
<g id="p11_piston">
<path d="M1535.0,1616.2C1527.9,1617.5 1520.8,1618.7 1515.0,1622.5C1507.1,1627.7 1500.4,1634.8 1495.0,1642.5C1489.8,1650.0 1486.2,1658.7 1483.8,1667.5C1481.5,1675.6 1480.5,1684.2 1481.2,1692.5C1481.8,1697.9 1484.6,1702.7 1487.5,1707.5L1580.0,1766.2C1584.4,1767.1 1588.7,1768.0 1592.5,1766.2C1597.6,1763.9 1601.3,1759.2 1605.0,1755.0C1610.5,1748.7 1615.6,1742.1 1620.0,1735.0C1624.0,1728.7 1627.2,1721.9 1630.0,1715.0C1633.0,1707.7 1635.1,1700.0 1637.5,1692.5C1639.1,1687.5 1642.0,1682.7 1642.0,1677.5C1642.0,1673.5 1639.8,1669.9 1637.5,1666.2C1607.9,1649.1 1578.2,1632.0 1547.5,1617.0C1543.7,1615.2 1539.4,1615.7 1535.0,1616.2" fill="#fff" stroke-width="8"/>
<path d="M1602.5,1652.5C1594.5,1655.9 1586.4,1659.3 1580.0,1665.0C1572.0,1672.1 1565.6,1680.9 1560.0,1690.0C1554.7,1698.6 1550.6,1707.9 1547.5,1717.5C1545.1,1724.7 1543.3,1732.4 1543.8,1740.0C1544.1,1746.2 1546.3,1752.5 1550.0,1757.5C1552.9,1761.5 1557.7,1763.5 1562.5,1765.5" fill="none" stroke-width="3"/>
<path d="M1607.5,1655.5C1599.9,1658.8 1592.4,1662.2 1586.2,1667.5C1578.4,1674.3 1571.9,1682.6 1566.2,1691.2C1561.0,1699.4 1556.9,1708.3 1553.8,1717.5C1551.4,1724.3 1549.8,1731.6 1550.0,1738.8C1550.2,1744.4 1551.8,1750.3 1555.0,1755.0C1557.5,1758.7 1561.9,1760.6 1566.2,1762.5" fill="none" stroke-width="3"/>
<path d="M1615.0,1662.5C1607.1,1666.0 1599.1,1669.5 1592.5,1675.0C1584.8,1681.4 1577.9,1689.1 1572.5,1697.5C1567.6,1705.1 1564.2,1713.7 1562.0,1722.5C1560.4,1729.0 1559.9,1736.0 1561.2,1742.5C1562.2,1747.3 1564.9,1752.0 1568.8,1755.0C1572.9,1758.2 1578.5,1760.8 1583.8,1760.0C1590.0,1759.0 1595.3,1754.3 1600.0,1750.0C1605.9,1744.6 1610.7,1738.0 1615.0,1731.2C1619.5,1724.2 1623.2,1716.6 1626.2,1708.8C1628.6,1702.7 1630.5,1696.4 1631.2,1690.0C1631.8,1685.0 1630.9,1680.0 1630.0,1675.0" fill="none" stroke-width="4"/>
<ellipse cx="1609.5" cy="1665.0" rx="3.5" ry="3.5" transform="rotate(0 1609.5 1665.0)" fill="none" stroke-width="3"/>
<ellipse cx="1562.0" cy="1746.2" rx="3.5" ry="3.5" transform="rotate(0 1562.0 1746.2)" fill="none" stroke-width="3"/>
<path d="M1612.5,1666.2C1617.0,1666.9 1621.4,1667.5 1625.0,1670.0C1628.4,1672.4 1630.5,1676.2 1632.5,1680.0" fill="none" stroke-width="3"/>
<path d="M1565.0,1748.8C1567.0,1752.4 1569.0,1756.0 1572.5,1757.5C1576.3,1759.2 1580.7,1758.3 1585.0,1757.5" fill="none" stroke-width="3"/>
<path d="M1701.2,1696.2C1708.6,1696.2 1716.3,1698.5 1722.5,1702.5C1729.2,1706.8 1734.9,1713.0 1738.8,1720.0C1742.0,1726.0 1743.2,1733.2 1743.0,1740.0C1742.8,1748.5 1740.7,1757.1 1737.5,1765.0C1733.8,1774.0 1728.3,1782.2 1722.5,1790.0C1715.8,1799.0 1708.5,1807.7 1700.0,1815.0C1693.3,1820.7 1685.8,1825.8 1677.5,1828.8C1671.2,1831.0 1663.9,1831.9 1657.5,1830.0C1650.6,1827.9 1644.4,1823.2 1640.0,1817.5C1635.7,1811.9 1633.9,1804.5 1632.5,1797.5C1631.0,1790.1 1630.1,1782.4 1631.2,1775.0C1632.7,1765.5 1635.7,1756.1 1640.0,1747.5C1644.5,1738.4 1650.7,1730.1 1657.5,1722.5C1664.2,1715.0 1671.4,1707.7 1680.0,1702.5C1686.3,1698.7 1693.9,1696.2 1701.2,1696.2Z" fill="#fff" stroke-width="8"/>
<path d="M1700.0,1708.8C1705.9,1707.9 1712.4,1709.5 1717.5,1712.5C1722.1,1715.2 1725.4,1720.1 1727.5,1725.0C1729.8,1730.4 1730.4,1736.6 1730.0,1742.5C1729.5,1749.4 1727.8,1756.2 1725.0,1762.5C1721.8,1769.7 1717.2,1776.2 1712.5,1782.5C1707.2,1789.6 1701.7,1796.7 1695.0,1802.5C1689.1,1807.6 1682.5,1812.6 1675.0,1815.0C1670.2,1816.5 1664.5,1816.0 1660.0,1813.8C1655.5,1811.5 1651.9,1807.2 1650.0,1802.5C1647.5,1796.3 1647.1,1789.2 1647.5,1782.5C1648.0,1774.8 1649.7,1767.2 1652.5,1760.0C1655.6,1752.0 1660.1,1744.5 1665.0,1737.5C1670.1,1730.3 1675.7,1723.1 1682.5,1717.5C1687.5,1713.4 1693.5,1709.7 1700.0,1708.8Z" fill="none" stroke-width="5"/>
<path d="M1722.5,1715.0C1727.3,1720.4 1732.1,1725.8 1733.8,1732.5C1735.6,1739.8 1734.3,1747.7 1732.5,1755.0C1730.5,1763.0 1726.8,1770.5 1722.5,1777.5C1717.5,1785.6 1711.6,1793.2 1705.0,1800.0C1699.0,1806.2 1692.6,1812.2 1685.0,1816.2C1678.9,1819.5 1672.0,1820.4 1665.0,1821.2" fill="none" stroke-width="3"/>
<path d="M1720.0,1720.0C1722.5,1725.7 1725.0,1731.4 1725.0,1737.5C1725.0,1745.2 1721.9,1752.5 1720.0,1760.0C1718.9,1764.2 1717.6,1768.4 1716.2,1772.5" fill="none" stroke-width="3"/>
<path d="M1797.5,1757.0C1806.0,1757.2 1815.0,1758.4 1822.5,1762.5C1829.8,1766.4 1835.8,1772.9 1840.0,1780.0C1844.4,1787.5 1847.1,1796.3 1847.5,1805.0C1847.9,1813.5 1845.7,1822.1 1842.5,1830.0C1838.9,1839.0 1833.5,1847.3 1827.5,1855.0C1821.7,1862.4 1815.2,1869.6 1807.5,1875.0C1800.8,1879.7 1793.0,1883.2 1785.0,1885.0C1777.7,1886.6 1769.6,1887.5 1762.5,1885.0C1754.6,1882.2 1747.7,1876.5 1742.5,1870.0C1737.4,1863.6 1734.5,1855.5 1732.5,1847.5C1730.7,1840.2 1730.1,1832.4 1731.2,1825.0C1732.7,1815.5 1735.5,1806.0 1740.0,1797.5C1744.4,1789.1 1750.7,1781.6 1757.5,1775.0C1763.3,1769.4 1770.1,1764.6 1777.5,1761.2C1783.7,1758.5 1790.7,1756.8 1797.5,1757.0Z" fill="#fff" stroke-width="8"/>
<path d="M1800.0,1768.8C1807.6,1767.1 1816.1,1770.6 1822.5,1775.0C1828.4,1779.0 1832.3,1785.8 1835.0,1792.5C1837.5,1798.7 1838.3,1805.8 1837.5,1812.5C1836.6,1820.4 1833.7,1828.0 1830.0,1835.0C1826.1,1842.4 1820.9,1849.1 1815.0,1855.0C1809.1,1860.9 1802.5,1866.3 1795.0,1870.0C1788.9,1873.1 1781.9,1875.2 1775.0,1875.0C1769.6,1874.8 1763.8,1872.6 1760.0,1868.8C1755.8,1864.5 1753.6,1858.4 1752.5,1852.5C1751.1,1845.1 1751.3,1837.4 1752.5,1830.0C1753.8,1822.2 1756.5,1814.6 1760.0,1807.5C1764.0,1799.4 1768.5,1791.3 1775.0,1785.0C1782.1,1778.1 1790.3,1770.8 1800.0,1768.8Z" fill="none" stroke-width="3.5"/>
<path d="M1815.0,1785.0C1810.3,1783.0 1804.5,1785.2 1800.0,1787.5C1794.2,1790.4 1789.2,1795.0 1785.0,1800.0C1779.9,1806.0 1775.7,1812.8 1772.5,1820.0C1769.4,1827.1 1766.7,1834.7 1766.2,1842.5C1765.9,1848.5 1766.6,1855.1 1770.0,1860.0C1772.6,1863.7 1778.0,1866.1 1782.5,1865.5C1789.0,1864.7 1795.0,1860.6 1800.0,1856.2C1806.1,1851.0 1811.2,1844.5 1815.0,1837.5C1818.8,1830.6 1820.8,1822.7 1822.5,1815.0C1823.7,1809.3 1825.2,1803.2 1823.8,1797.5C1822.5,1792.6 1819.7,1787.0 1815.0,1785.0Z" fill="none" stroke-width="6"/>
<path d="M1826.2,1790.0C1829.5,1797.4 1832.7,1804.7 1832.5,1812.5C1832.3,1821.2 1828.9,1829.7 1825.0,1837.5C1821.3,1845.0 1816.1,1851.8 1810.0,1857.5C1804.2,1862.8 1797.1,1866.4 1790.0,1870.0" fill="none" stroke-width="3"/>
<path d="M1820.0,1800.0C1821.3,1807.6 1822.6,1815.1 1821.2,1822.5C1820.0,1829.7 1816.2,1836.1 1812.5,1842.5" fill="none" stroke-width="3"/>
<path d="M1830.0,1780.0C1834.6,1788.0 1839.1,1796.1 1840.0,1805.0C1840.8,1813.5 1837.9,1821.7 1835.0,1830.0" fill="none" stroke-width="3"/>
</g>
<g id="p12_carrier">
<path d="M1083.3,2027.3C1078.5,2028.9 1074.9,2033.4 1071.7,2037.3C1068.0,2041.8 1064.3,2046.7 1062.7,2052.3C1061.6,2055.8 1061.6,2060.3 1064.0,2063.0C1069.6,2069.3 1077.3,2073.9 1085.0,2077.3C1088.5,2078.9 1093.2,2079.4 1096.7,2077.7C1101.7,2075.2 1105.4,2070.4 1108.3,2065.7C1110.8,2061.7 1112.7,2057.0 1112.7,2052.3C1112.7,2048.7 1110.6,2045.2 1108.3,2042.3C1104.6,2037.5 1100.3,2032.8 1095.0,2029.7C1091.6,2027.6 1087.1,2026.1 1083.3,2027.3Z" fill="#fff" stroke-width="8"/>
<path d="M1077.3,2037.3C1074.9,2041.1 1072.6,2044.8 1072.7,2049.0C1072.8,2053.8 1075.4,2058.1 1078.0,2062.3" fill="none" stroke-width="3"/>
<path d="M1082.0,2040.3C1079.6,2044.1 1077.2,2047.8 1077.3,2052.0C1077.5,2056.8 1080.1,2061.1 1082.7,2065.3" fill="none" stroke-width="3"/>
<path d="M1086.7,2043.3C1084.3,2047.1 1081.9,2050.8 1082.0,2055.0C1082.1,2059.8 1084.7,2064.1 1087.3,2068.3" fill="none" stroke-width="3"/>
<path d="M1091.3,2046.3C1088.9,2050.1 1086.6,2053.8 1086.7,2058.0C1086.8,2062.8 1089.4,2067.1 1092.0,2071.3" fill="none" stroke-width="3"/>
<ellipse cx="1099.3" cy="2057.3" rx="8.0" ry="13.3" transform="rotate(32 1099.3 2057.3)" fill="none" stroke-width="4"/>
<path d="M1121.7,2105.7C1143.2,2122.6 1164.7,2139.4 1186.7,2155.7C1189.7,2157.9 1192.9,2160.7 1196.7,2161.0C1201.3,2161.3 1206.3,2160.1 1210.0,2157.3C1215.1,2153.5 1218.5,2147.8 1221.7,2142.3C1224.7,2137.2 1227.3,2131.6 1228.3,2125.7C1229.0,2121.8 1228.5,2117.4 1226.7,2114.0C1225.0,2110.9 1221.6,2109.1 1218.3,2107.3C1198.2,2093.3 1178.1,2079.3 1156.7,2067.3C1153.8,2065.7 1149.9,2066.4 1146.7,2067.3C1141.9,2068.7 1136.8,2070.5 1133.3,2074.0C1128.8,2078.6 1125.6,2084.6 1123.3,2090.7C1121.6,2095.4 1121.6,2100.5 1121.7,2105.7Z" fill="#fff" stroke-width="8"/>
<path d="M1173.3,2092.3C1168.5,2096.3 1163.6,2100.3 1160.7,2105.7C1157.4,2111.7 1155.1,2118.8 1155.3,2125.7C1155.5,2129.8 1158.6,2133.1 1161.7,2136.3" fill="none" stroke-width="3"/>
<ellipse cx="1206.7" cy="2134.0" rx="14.0" ry="22.7" transform="rotate(32 1206.7 2134.0)" fill="none" stroke-width="5"/>
<ellipse cx="1205.3" cy="2135.7" rx="7.3" ry="13.3" transform="rotate(32 1205.3 2135.7)" fill="none" stroke-width="4"/>
<path d="M1234.0,2174.3C1254.8,2188.2 1275.7,2202.1 1296.7,2215.7C1302.1,2219.2 1307.5,2222.9 1313.3,2225.7C1315.9,2226.9 1319.0,2228.4 1321.7,2227.3C1325.3,2225.9 1328.1,2222.4 1330.0,2219.0C1331.6,2216.0 1332.6,2212.3 1331.7,2209.0C1330.7,2205.6 1327.9,2202.8 1325.0,2200.7C1321.6,2198.2 1316.2,2198.8 1313.3,2195.7C1311.2,2193.4 1311.4,2189.8 1311.7,2186.3C1293.7,2173.4 1275.7,2160.4 1256.7,2149.0C1253.8,2147.3 1250.0,2146.8 1246.7,2147.3C1243.0,2147.9 1239.2,2149.6 1236.7,2152.3C1233.8,2155.5 1232.2,2159.8 1231.7,2164.0C1231.2,2167.5 1232.6,2170.9 1234.0,2174.3Z" fill="#fff" stroke-width="8"/>
<path d="M1300.0,2190.7C1297.2,2193.1 1294.5,2195.6 1293.3,2199.0C1292.1,2202.7 1292.3,2206.9 1293.3,2210.7C1294.0,2213.1 1296.2,2214.7 1298.3,2216.3" fill="none" stroke-width="3"/>
<path d="M1311.7,2195.7C1308.9,2198.1 1306.1,2200.6 1305.0,2204.0C1303.8,2207.7 1303.7,2212.0 1305.0,2215.7C1306.1,2218.6 1308.9,2220.5 1311.7,2222.3" fill="none" stroke-width="3"/>
<path d="M1319.3,2205.7C1317.6,2207.7 1315.8,2209.8 1315.3,2212.3C1314.8,2215.1 1315.8,2217.9 1316.7,2220.7" fill="none" stroke-width="3"/>
<path d="M1460.0,1949.0C1466.9,1949.4 1473.7,1949.8 1480.0,1952.3C1485.2,1954.4 1489.5,1958.3 1493.3,1962.3C1497.4,1966.7 1500.0,1972.3 1503.3,1977.3C1506.7,1982.3 1510.0,1987.3 1513.3,1992.3C1520.4,1992.4 1527.4,1992.4 1533.3,1995.7C1536.5,1997.4 1537.0,2002.1 1537.3,2005.7C1538.0,2013.4 1538.6,2021.7 1536.0,2029.0C1534.7,2032.6 1530.7,2034.1 1526.7,2035.7L1510.0,2029.0C1511.2,2034.6 1512.3,2040.1 1511.7,2045.7C1511.2,2049.9 1510.0,2054.7 1506.7,2057.3C1501.0,2061.8 1492.3,2061.2 1486.7,2065.7C1483.9,2067.8 1483.9,2072.2 1483.3,2075.7C1482.2,2082.3 1482.1,2089.0 1481.7,2095.7C1481.0,2106.8 1481.1,2117.9 1480.0,2129.0C1478.9,2140.2 1476.7,2151.2 1475.0,2162.3C1473.3,2173.4 1472.0,2184.6 1470.0,2195.7C1468.6,2203.5 1466.8,2211.2 1465.0,2219.0C1471.5,2222.6 1478.0,2226.3 1481.7,2232.3C1484.6,2237.1 1484.2,2243.5 1483.3,2249.0C1482.4,2254.9 1479.8,2260.6 1476.7,2265.7C1473.6,2270.7 1468.9,2274.6 1465.0,2279.0C1460.0,2284.6 1455.8,2290.9 1450.0,2295.7C1446.2,2298.8 1441.4,2300.6 1436.7,2302.3C1441.2,2302.4 1445.8,2302.5 1450.0,2304.0C1462.6,2308.6 1474.6,2314.6 1486.7,2320.7L1488.3,2339.0C1494.9,2342.6 1501.5,2346.1 1505.0,2352.3C1507.7,2357.2 1505.5,2363.5 1505.0,2369.0C1504.3,2376.8 1503.8,2384.8 1501.7,2392.3C1500.9,2395.0 1498.8,2397.0 1496.7,2399.0L1476.7,2392.3C1467.8,2394.6 1458.9,2396.8 1450.0,2399.0C1441.1,2401.2 1432.3,2403.9 1423.3,2405.7C1417.9,2406.7 1412.1,2408.8 1406.7,2407.3C1399.2,2405.3 1393.4,2399.5 1386.7,2395.7C1375.6,2389.4 1364.3,2383.8 1353.3,2377.3C1345.4,2372.6 1336.9,2368.5 1330.0,2362.3C1326.1,2358.8 1323.6,2353.9 1321.7,2349.0C1319.6,2343.7 1319.0,2338.0 1318.3,2332.3C1322.3,2329.1 1326.3,2325.8 1330.0,2322.3C1335.7,2316.9 1341.4,2311.5 1346.7,2305.7C1351.4,2300.4 1356.5,2295.2 1360.0,2289.0C1361.7,2286.1 1361.7,2282.5 1361.7,2279.0L1336.7,2259.0C1336.4,2253.4 1336.1,2247.9 1336.7,2242.3C1337.2,2237.8 1337.6,2232.9 1340.0,2229.0C1343.3,2223.7 1348.7,2219.9 1353.3,2215.7C1359.8,2209.9 1366.6,2204.4 1373.3,2199.0C1373.7,2190.0 1374.1,2180.9 1376.7,2172.3C1379.2,2164.0 1385.1,2157.1 1388.3,2149.0C1392.3,2139.2 1396.2,2129.3 1398.3,2119.0C1400.1,2110.3 1400.9,2101.2 1400.0,2092.3C1399.2,2084.3 1396.7,2076.3 1393.3,2069.0C1390.0,2061.7 1385.4,2054.9 1380.0,2049.0C1374.2,2042.6 1366.8,2037.8 1360.0,2032.3C1355.7,2028.9 1351.2,2025.6 1346.7,2022.3L1346.7,1995.7C1352.1,1994.2 1357.6,1992.7 1361.7,1989.0C1363.8,1987.1 1363.6,1983.9 1363.3,1980.7L1333.3,1964.0C1334.3,1960.1 1335.2,1956.1 1336.7,1952.3C1338.6,1947.2 1339.5,1941.2 1343.3,1937.3C1347.7,1932.9 1354.1,1930.8 1360.0,1929.0C1368.6,1926.3 1377.7,1925.5 1386.7,1924.0C1394.4,1922.7 1402.1,1921.0 1410.0,1920.7C1416.7,1920.4 1423.5,1920.7 1430.0,1922.3C1434.8,1923.5 1439.6,1925.7 1443.3,1929.0C1449.8,1934.8 1454.9,1941.9 1460.0,1949.0Z" fill="#fff" stroke-width="8"/>
<path d="M1363.3,1935.7C1370.8,1940.1 1378.3,1944.5 1386.7,1945.7C1394.4,1946.8 1402.4,1940.5 1410.0,1942.3C1422.1,1945.2 1433.2,1951.8 1443.3,1959.0C1452.3,1965.3 1457.8,1975.9 1466.7,1982.3C1470.4,1985.0 1475.4,1985.9 1480.0,1985.7C1486.9,1985.3 1493.4,1983.0 1500.0,1980.7" fill="none" stroke-width="3"/>
<path d="M1388.3,1930.7C1413.1,1942.2 1437.8,1953.8 1463.3,1963.3C1466.5,1964.5 1472.0,1965.4 1473.3,1962.3C1474.6,1959.5 1469.8,1956.2 1466.7,1955.7C1459.0,1954.4 1451.2,1955.9 1443.3,1957.3" fill="none" stroke-width="3"/>
<path d="M1403.3,1933.0L1423.3,1929.0" fill="none" stroke-width="3"/>
<path d="M1363.3,1984.0C1375.7,1987.4 1388.1,1990.9 1400.0,1995.7C1411.5,2000.3 1421.5,2008.6 1433.3,2012.3C1441.3,2014.8 1449.8,2014.4 1458.3,2014.0" fill="none" stroke-width="3"/>
<path d="M1371.7,2014.0C1376.3,2018.1 1380.9,2022.3 1386.7,2024.0C1394.1,2026.3 1402.4,2023.9 1410.0,2025.7C1417.0,2027.3 1423.1,2031.8 1430.0,2034.0C1435.4,2035.7 1441.1,2038.5 1446.7,2037.3C1450.1,2036.6 1450.3,2030.8 1453.3,2029.0C1457.3,2026.7 1462.2,2026.5 1466.7,2025.7C1474.4,2024.3 1482.2,2021.6 1490.0,2022.3C1494.0,2022.7 1498.4,2025.3 1500.0,2029.0C1502.2,2034.1 1501.8,2040.4 1500.0,2045.7C1498.2,2050.9 1494.1,2055.0 1490.0,2059.0" fill="none" stroke-width="3"/>
<path d="M1450.0,2049.0L1485.0,2065.7" fill="none" stroke-width="3"/>
<path d="M1453.3,2042.3C1451.4,2050.1 1449.5,2057.8 1448.3,2065.7C1446.1,2081.2 1444.9,2096.8 1443.3,2112.3C1441.6,2129.0 1440.3,2145.7 1438.3,2162.3C1437.0,2173.5 1436.1,2184.8 1433.3,2195.7C1431.0,2204.9 1428.4,2214.3 1423.3,2222.3C1417.1,2232.3 1408.7,2241.0 1400.0,2249.0C1393.0,2255.5 1384.7,2260.5 1376.7,2265.7C1373.5,2267.7 1370.1,2269.2 1366.7,2270.7C1372.4,2279.0 1378.2,2287.4 1386.7,2292.3C1390.2,2294.4 1394.3,2291.7 1398.3,2289.0" fill="none" stroke-width="3"/>
<path d="M1466.7,2065.7C1465.0,2081.2 1463.3,2096.8 1461.7,2112.3C1459.9,2129.0 1459.0,2145.7 1456.7,2162.3C1455.1,2173.6 1453.0,2184.7 1450.0,2195.7C1447.5,2204.8 1444.7,2214.1 1440.0,2222.3C1435.7,2229.9 1429.5,2236.2 1423.3,2242.3C1416.1,2249.6 1407.2,2255.1 1400.0,2262.3C1395.0,2267.4 1389.2,2272.4 1386.7,2279.0C1385.0,2283.2 1386.7,2287.8 1388.3,2292.3" fill="none" stroke-width="3"/>
<path d="M1390.0,2054.0C1397.5,2061.8 1404.9,2069.6 1410.0,2079.0C1415.6,2089.3 1419.9,2100.7 1421.7,2112.3C1423.3,2123.3 1422.0,2134.7 1420.0,2145.7C1418.1,2156.0 1414.3,2166.0 1410.0,2175.7C1405.9,2185.0 1400.8,2193.9 1395.0,2202.3C1390.7,2208.5 1385.4,2213.7 1380.0,2219.0" fill="none" stroke-width="3"/>
<path d="M1353.3,2222.3C1351.7,2227.8 1350.0,2233.3 1350.0,2239.0C1350.0,2244.7 1351.7,2250.2 1353.3,2255.7" fill="none" stroke-width="3"/>
<path d="M1436.7,2315.7C1446.1,2322.6 1455.6,2329.6 1466.7,2332.3C1470.6,2333.3 1479.3,2328.7 1476.7,2325.7C1469.2,2317.0 1457.9,2313.0 1446.7,2309.0" fill="none" stroke-width="3"/>
<path d="M1466.7,2332.3C1466.7,2337.4 1466.8,2342.4 1470.0,2345.7C1474.2,2349.9 1480.4,2351.1 1486.7,2352.3" fill="none" stroke-width="3"/>
<path d="M1325.0,2345.7C1334.3,2351.5 1343.6,2357.3 1353.3,2362.3C1365.3,2368.5 1377.0,2375.5 1390.0,2379.0C1401.8,2382.2 1414.4,2383.4 1426.7,2382.3C1440.4,2381.1 1452.9,2372.3 1466.7,2372.3C1470.2,2372.3 1470.1,2377.3 1470.0,2382.3" fill="none" stroke-width="3"/>
<path d="M1493.3,2355.7L1493.3,2389.0" fill="none" stroke-width="3"/>
<path d="M1523.3,2000.7L1525.0,2030.7" fill="none" stroke-width="3"/>
<path d="M1371.7,2339.0C1376.4,2344.9 1381.1,2350.7 1386.7,2355.7C1390.6,2359.1 1394.8,2363.7 1400.0,2364.0C1405.0,2364.3 1408.9,2359.6 1413.3,2357.3C1418.9,2354.6 1424.9,2352.5 1430.0,2349.0C1433.9,2346.3 1437.7,2343.1 1440.0,2339.0C1442.3,2335.0 1442.8,2330.3 1443.3,2325.7" fill="none" stroke-width="5"/>
<path d="M1433.3,2304.0C1429.1,2311.4 1425.0,2318.8 1420.0,2325.7C1414.9,2332.7 1408.3,2338.6 1403.3,2345.7C1400.5,2349.7 1398.6,2354.4 1396.7,2359.0" fill="none" stroke-width="8"/>
<path d="M1393.3,2062.3C1398.4,2070.9 1403.4,2079.4 1405.0,2089.0C1406.8,2100.0 1405.1,2111.3 1403.3,2122.3C1401.7,2132.6 1398.6,2142.6 1395.0,2152.3C1391.9,2160.5 1387.6,2168.1 1383.3,2175.7" fill="none" stroke-width="5"/>
<ellipse cx="1376.7" cy="2025.7" rx="4.0" ry="6.7" transform="rotate(20 1376.7 2025.7)" fill="none" stroke-width="3"/>
<ellipse cx="1366.7" cy="2241.3" rx="7.3" ry="10.0" transform="rotate(10 1366.7 2241.3)" fill="none" stroke-width="4.5"/>
<ellipse cx="1456.7" cy="2254.7" rx="4.7" ry="11.3" transform="rotate(25 1456.7 2254.7)" fill="none" stroke-width="4"/>
</g>
<g id="p99_labels">
<path d="M1255.0,643.3L1486.7,703.3" stroke-width="3" stroke-linecap="butt" fill="none"/>
<path d="M1716.7,768.3L1868.3,808.3" stroke-width="3" stroke-linecap="butt" fill="none"/>
<path d="M1588.8,1706.2L1636.2,1731.2" stroke-width="3" stroke-linecap="butt" fill="none"/>
<path d="M1665.0,1750.0L1733.8,1788.8" stroke-width="3" stroke-linecap="butt" fill="none"/>
<path d="M1795.0,1825.0L1875.0,1870.0" stroke-width="3" stroke-linecap="butt" fill="none"/>
<path d="M712.5,1670.0L339.3,1860.8L341.7,1865.2L604.0,1732.4L359.9,1891.1L362.6,1895.4Z" fill="#000" stroke="none"/><circle cx="340.5" cy="1863.0" r="2.5" fill="#000" stroke="none"/><circle cx="361.2" cy="1893.2" r="2.5" fill="#000" stroke="none"/>
<path d="M771.2,1821.2L1059.0,2003.9L1056.0,2008.6L861.5,1886.3L1033.7,2028.4L1030.3,2032.6Z" fill="#000" stroke="none"/><circle cx="1057.5" cy="2006.2" r="2.75" fill="#000" stroke="none"/><circle cx="1032.0" cy="2030.5" r="2.75" fill="#000" stroke="none"/>
<path d="M80.5,654.0L80.5,736.0" stroke-width="3" stroke-linecap="butt" fill="none"/>
<circle cx="80.5" cy="654.0" r="7.5" fill="#000" stroke="none"/>
<path d="M714.0,980.5L714.0,1064.5" stroke-width="3" stroke-linecap="butt" fill="none"/>
<circle cx="714.0" cy="980.5" r="7.5" fill="#000" stroke="none"/>
<path d="M1166.7,946.7L1166.7,1051.7" stroke-width="3" stroke-linecap="butt" fill="none"/>
<circle cx="1166.7" cy="946.7" r="7.5" fill="#000" stroke="none"/>
<path d="M1348.7,895.7L1348.7,1000.0" stroke-width="3" stroke-linecap="butt" fill="none"/>
<circle cx="1348.7" cy="895.7" r="7.5" fill="#000" stroke="none"/>
<path d="M1974.3,883.2L1974.3,964.0" stroke-width="3" stroke-linecap="butt" fill="none"/>
<circle cx="1974.3" cy="883.2" r="7.5" fill="#000" stroke="none"/>
<path d="M1599.3,1272.7L1599.3,1381.7" stroke-width="3" stroke-linecap="butt" fill="none"/>
<circle cx="1599.3" cy="1272.7" r="7.5" fill="#000" stroke="none"/>
<path d="M231.8,1469.2L231.8,1551.2" stroke-width="3" stroke-linecap="butt" fill="none"/>
<circle cx="231.8" cy="1469.2" r="7.5" fill="#000" stroke="none"/>
<path d="M970.0,1566.7L1055.0,1650.0" stroke-width="3" stroke-linecap="butt" fill="none"/>
<circle cx="970.0" cy="1566.7" r="7.5" fill="#000" stroke="none"/>
<path d="M1172.7,1601.7L1120.0,1650.0" stroke-width="3" stroke-linecap="butt" fill="none"/>
<circle cx="1172.7" cy="1601.7" r="7.5" fill="#000" stroke="none"/>
<path d="M1732.0,1687.0L1793.8,1622.5" stroke-width="3" stroke-linecap="butt" fill="none"/>
<circle cx="1732.0" cy="1687.0" r="7.5" fill="#000" stroke="none"/>
<path d="M1817.0,1742.5L1817.0,1624.5" stroke-width="3" stroke-linecap="butt" fill="none"/>
<circle cx="1817.0" cy="1742.5" r="7.5" fill="#000" stroke="none"/>
<path d="M1112.5,2022.0L1173.3,1959.0" stroke-width="3" stroke-linecap="butt" fill="none"/>
<circle cx="1112.5" cy="2022.0" r="7.5" fill="#000" stroke="none"/>
<path d="M1199.3,2076.7L1199.3,1969.0" stroke-width="3" stroke-linecap="butt" fill="none"/>
<circle cx="1199.3" cy="2076.7" r="7.5" fill="#000" stroke="none"/>
<path d="M1063.2,2082.0L1002.5,2140.0" stroke-width="3" stroke-linecap="butt" fill="none"/>
<circle cx="1063.2" cy="2082.0" r="7.5" fill="#000" stroke="none"/>
<path d="M1265.0,2216.3L1265.0,2317.3" stroke-width="3" stroke-linecap="butt" fill="none"/>
<circle cx="1265.0" cy="2216.3" r="7.5" fill="#000" stroke="none"/>
<path d="M533.3,2165.0L641.7,2165.0" stroke-width="3" stroke-linecap="butt" fill="none"/>
<circle cx="533.3" cy="2165.0" r="7.5" fill="#000" stroke="none"/>
<path d="M533.3,2275.0L641.7,2275.0" stroke-width="3" stroke-linecap="butt" fill="none"/>
<circle cx="533.3" cy="2275.0" r="7.5" fill="#000" stroke="none"/>
<path d="M207.0,2146.0L98.0,2145.5" stroke-width="3" stroke-linecap="butt" fill="none"/>
<circle cx="207.0" cy="2146.0" r="7.5" fill="#000" stroke="none"/>
<path d="M658.3,1839.0L658.3,1921.7" stroke-width="3" stroke-linecap="butt" fill="none"/>
<path d="M1410.7,1824.0L1410.7,1919.0" stroke-width="3" stroke-linecap="butt" fill="none"/>
<circle cx="1200.0" cy="462.3" r="56.7" fill="#fff" stroke-width="3"/>
<circle cx="1410.0" cy="1767.3" r="56.7" fill="#fff" stroke-width="3"/>
<circle cx="657.3" cy="1977.3" r="56.7" fill="#fff" stroke-width="3"/>
<text transform="translate(45.42,795.75) scale(1.025,1)" font-size="66.5" fill="#000" stroke="none">17</text>
<text transform="translate(679.17,1122.50) scale(1.025,1)" font-size="66.5" fill="#000" stroke="none">14</text>
<text transform="translate(1130.92,1112.40) scale(1.025,1)" font-size="66.5" fill="#000" stroke="none">18</text>
<text transform="translate(1314.62,1058.30) scale(1.025,1)" font-size="66.5" fill="#000" stroke="none">19</text>
<text transform="translate(1938.92,1024.00) scale(1.025,1)" font-size="66.5" fill="#000" stroke="none">13</text>
<text transform="translate(1564.62,1441.70) scale(1.025,1)" font-size="66.5" fill="#000" stroke="none">12</text>
<text transform="translate(1164.92,488.30) scale(1.025,1)" font-size="66.5" fill="#000" stroke="none">16</text>
<text transform="translate(196.59,1610.00) scale(1.025,1)" font-size="66.5" fill="#000" stroke="none">25</text>
<text transform="translate(1053.29,1711.70) scale(1.025,1)" font-size="66.5" fill="#000" stroke="none">20</text>
<text transform="translate(1802.09,1616.30) scale(1.025,1)" font-size="66.5" fill="#000" stroke="none">2</text>
<text transform="translate(1396.44,1786.70) scale(1.025,1)" font-size="66.5" fill="#000" stroke="none">3</text>
<text transform="translate(639.62,2004.00) scale(1.025,1)" font-size="66.5" fill="#000" stroke="none">1</text>
<text transform="translate(1183.40,1959.00) scale(1.025,1)" font-size="66.5" fill="#000" stroke="none">4</text>
<text transform="translate(933.40,2198.75) scale(1.025,1)" font-size="66.5" fill="#000" stroke="none">4A</text>
<text transform="translate(1247.23,2377.30) scale(1.025,1)" font-size="66.5" fill="#000" stroke="none">5</text>
<text transform="translate(649.24,2190.70) scale(1.025,1)" font-size="66.5" fill="#000" stroke="none">6</text>
<text transform="translate(648.19,2299.70) scale(1.025,1)" font-size="66.5" fill="#000" stroke="none">7</text>
<text transform="translate(55.02,2171.50) scale(1.025,1)" font-size="66.5" fill="#000" stroke="none">8</text>
<text transform="translate(1607.86,2412.30) scale(0.982,1)" font-size="50.9" fill="#000" stroke="none">C2669 9-3 (9440)</text>
</g>
</g>
</svg>
</body></html>
